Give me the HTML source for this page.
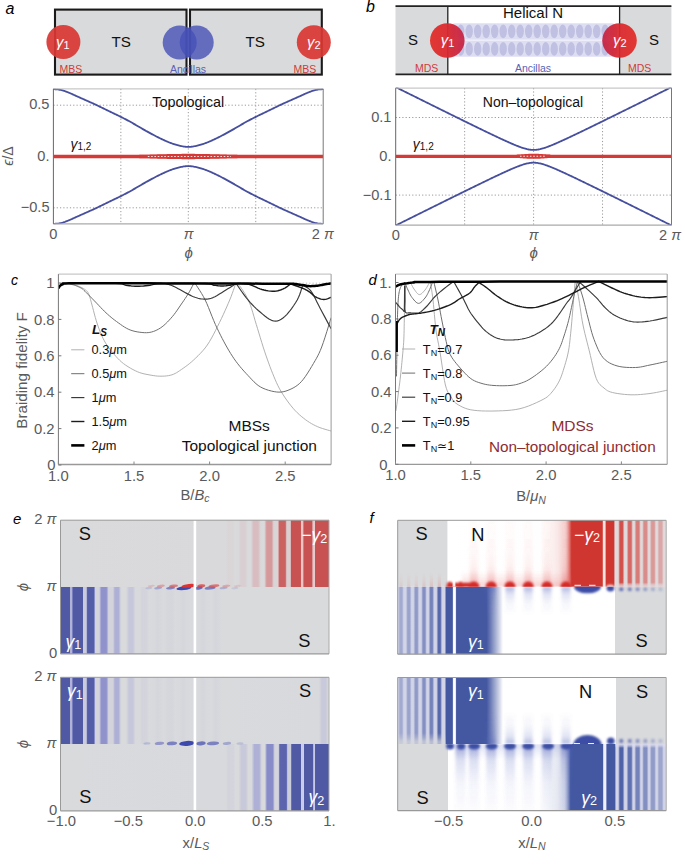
<!DOCTYPE html>
<html><head><meta charset="utf-8"><title>Braiding figure</title>
<style>html,body{margin:0;padding:0;background:#fff;width:685px;height:865px;overflow:hidden;}svg{display:block;}text{font-family:"Liberation Sans",sans-serif;}</style>
</head><body><svg width="685" height="865" viewBox="0 0 685 865" font-family="Liberation Sans, sans-serif"><defs><linearGradient id="cg1" x1="0" y1="0" x2="1" y2="0"><stop offset="0" stop-color="rgb(226,46,40)"/><stop offset="0.5" stop-color="rgb(218,40,46)"/><stop offset="1" stop-color="rgb(196,36,72)"/></linearGradient><linearGradient id="cg2" x1="0" y1="0" x2="1" y2="0"><stop offset="0" stop-color="rgb(196,36,72)"/><stop offset="0.5" stop-color="rgb(218,40,46)"/><stop offset="1" stop-color="rgb(226,46,40)"/></linearGradient><filter id="bl1" x="-50%" y="-50%" width="200%" height="200%"><feGaussianBlur stdDeviation="0.9"/></filter><filter id="bl2" x="-50%" y="-50%" width="200%" height="200%"><feGaussianBlur stdDeviation="1.8"/></filter><filter id="bl3" x="-50%" y="-50%" width="200%" height="200%"><feGaussianBlur stdDeviation="3"/></filter><linearGradient id="hg1" gradientUnits="userSpaceOnUse" x1="60.5" y1="0" x2="329.0" y2="0"><stop offset="0.0000" stop-color="#d9dadc"/><stop offset="0.6145" stop-color="#d9d9db"/><stop offset="0.6257" stop-color="#d9d5d7"/><stop offset="0.6406" stop-color="#d9d6d8"/><stop offset="0.6518" stop-color="#d9dadc"/><stop offset="0.6629" stop-color="#d9d8db"/><stop offset="0.6723" stop-color="#d9ced1"/><stop offset="0.6872" stop-color="#d9ced1"/><stop offset="0.6983" stop-color="#d9dadc"/><stop offset="0.7076" stop-color="#d9dadc"/><stop offset="0.7095" stop-color="#d9d8da"/><stop offset="0.7151" stop-color="#d9c8cb"/><stop offset="0.7188" stop-color="#d8bec1"/><stop offset="0.7225" stop-color="#d8bcbf"/><stop offset="0.7356" stop-color="#d8bdc0"/><stop offset="0.7393" stop-color="#d9c5c8"/><stop offset="0.7449" stop-color="#d9d6d8"/><stop offset="0.7467" stop-color="#d9d9db"/><stop offset="0.7579" stop-color="#d9dadc"/><stop offset="0.7598" stop-color="#d9d4d6"/><stop offset="0.7616" stop-color="#d9c8ca"/><stop offset="0.7654" stop-color="#d7aaad"/><stop offset="0.7672" stop-color="#d69fa2"/><stop offset="0.7691" stop-color="#d5999c"/><stop offset="0.7840" stop-color="#d5999c"/><stop offset="0.7858" stop-color="#d59a9d"/><stop offset="0.7877" stop-color="#d6a3a6"/><stop offset="0.7933" stop-color="#d9cdcf"/><stop offset="0.7952" stop-color="#d9d4d6"/><stop offset="0.8082" stop-color="#d9d4d6"/><stop offset="0.8101" stop-color="#d9c9cb"/><stop offset="0.8119" stop-color="#d6a3a6"/><stop offset="0.8138" stop-color="#d17b7e"/><stop offset="0.8156" stop-color="#cc6364"/><stop offset="0.8175" stop-color="#cc6162"/><stop offset="0.8361" stop-color="#cc6162"/><stop offset="0.8380" stop-color="#cf6f71"/><stop offset="0.8399" stop-color="#d59295"/><stop offset="0.8417" stop-color="#d8bbbe"/><stop offset="0.8436" stop-color="#d9ced0"/><stop offset="0.8547" stop-color="#d9ced1"/><stop offset="0.8566" stop-color="#d8babd"/><stop offset="0.8585" stop-color="#cb5f60"/><stop offset="0.8603" stop-color="#c85252"/><stop offset="0.8920" stop-color="#c85252"/><stop offset="0.8939" stop-color="#c95556"/><stop offset="0.8957" stop-color="#ddaeb0"/><stop offset="0.8976" stop-color="#ebc7c8"/><stop offset="0.8994" stop-color="#eec4c4"/><stop offset="0.9013" stop-color="#eec4c4"/><stop offset="0.9032" stop-color="#e6cccd"/><stop offset="0.9050" stop-color="#d37f81"/><stop offset="0.9069" stop-color="#c85252"/><stop offset="0.9367" stop-color="#c85252"/><stop offset="0.9385" stop-color="#d8999b"/><stop offset="0.9404" stop-color="#e9c9ca"/><stop offset="0.9423" stop-color="#eec4c4"/><stop offset="0.9441" stop-color="#eec4c4"/><stop offset="0.9460" stop-color="#e6cccd"/><stop offset="0.9479" stop-color="#d27a7c"/><stop offset="0.9497" stop-color="#c85252"/><stop offset="1.0000" stop-color="#c85252"/></linearGradient><linearGradient id="hg2" gradientUnits="userSpaceOnUse" x1="60.5" y1="0" x2="329.0" y2="0"><stop offset="0.0000" stop-color="#797ec0"/><stop offset="0.0019" stop-color="#505aa4"/><stop offset="0.0335" stop-color="#505aa4"/><stop offset="0.0354" stop-color="#abadd5"/><stop offset="0.0372" stop-color="#b0b2d6"/><stop offset="0.0428" stop-color="#b1b3d6"/><stop offset="0.0447" stop-color="#797ec0"/><stop offset="0.0466" stop-color="#505aa4"/><stop offset="0.0819" stop-color="#505aa4"/><stop offset="0.0838" stop-color="#797ec0"/><stop offset="0.0857" stop-color="#cbccdb"/><stop offset="0.0950" stop-color="#cacbdb"/><stop offset="0.0968" stop-color="#b4b6d7"/><stop offset="0.0987" stop-color="#7e83c3"/><stop offset="0.1006" stop-color="#5861aa"/><stop offset="0.1024" stop-color="#545da7"/><stop offset="0.1229" stop-color="#545da7"/><stop offset="0.1248" stop-color="#5d65ae"/><stop offset="0.1266" stop-color="#898dc8"/><stop offset="0.1285" stop-color="#bec0d9"/><stop offset="0.1304" stop-color="#d3d4dc"/><stop offset="0.1434" stop-color="#d3d4dc"/><stop offset="0.1453" stop-color="#cacbdb"/><stop offset="0.1490" stop-color="#a9abd4"/><stop offset="0.1508" stop-color="#9a9dcf"/><stop offset="0.1527" stop-color="#9194cc"/><stop offset="0.1583" stop-color="#8f92cb"/><stop offset="0.1695" stop-color="#8f92cb"/><stop offset="0.1713" stop-color="#9397cd"/><stop offset="0.1732" stop-color="#9fa2d1"/><stop offset="0.1769" stop-color="#c1c2d9"/><stop offset="0.1788" stop-color="#d0d1db"/><stop offset="0.1825" stop-color="#d2d3db"/><stop offset="0.1955" stop-color="#d2d3dc"/><stop offset="0.2011" stop-color="#b6b7d7"/><stop offset="0.2030" stop-color="#afb1d6"/><stop offset="0.2067" stop-color="#adafd5"/><stop offset="0.2160" stop-color="#aeb0d6"/><stop offset="0.2179" stop-color="#b4b6d7"/><stop offset="0.2235" stop-color="#d0d2db"/><stop offset="0.2253" stop-color="#d7d8dc"/><stop offset="0.2291" stop-color="#d9dadc"/><stop offset="0.2439" stop-color="#d9dadc"/><stop offset="0.2495" stop-color="#d0d1db"/><stop offset="0.2551" stop-color="#c6c8da"/><stop offset="0.2682" stop-color="#c6c7da"/><stop offset="0.2719" stop-color="#cacbdb"/><stop offset="0.2793" stop-color="#d8d9dc"/><stop offset="0.2961" stop-color="#d8d9dc"/><stop offset="0.3054" stop-color="#d2d3db"/><stop offset="0.3203" stop-color="#d3d4dc"/><stop offset="0.3296" stop-color="#d9dadc"/><stop offset="0.3482" stop-color="#d8d9dc"/><stop offset="0.3613" stop-color="#d5d6dc"/><stop offset="0.3855" stop-color="#d9dadc"/><stop offset="0.3985" stop-color="#d6d7dc"/><stop offset="0.4153" stop-color="#d5d6dc"/><stop offset="0.4283" stop-color="#d9dadc"/><stop offset="0.4432" stop-color="#d8d9dc"/><stop offset="0.4562" stop-color="#d5d6dc"/><stop offset="0.4693" stop-color="#d8d9dc"/><stop offset="0.5047" stop-color="#d9dadc"/><stop offset="0.5177" stop-color="#d8d9dc"/><stop offset="0.5307" stop-color="#d5d6dc"/><stop offset="0.5438" stop-color="#d8d9dc"/><stop offset="0.5624" stop-color="#d9dadc"/><stop offset="0.5773" stop-color="#d5d6dc"/><stop offset="0.5903" stop-color="#d7d8dc"/><stop offset="0.6034" stop-color="#d9dadc"/><stop offset="1.0000" stop-color="#d9dadc"/></linearGradient><linearGradient id="hg3" gradientUnits="userSpaceOnUse" x1="60.5" y1="0" x2="329.0" y2="0"><stop offset="0.0000" stop-color="#797ec0"/><stop offset="0.0019" stop-color="#505aa4"/><stop offset="0.0335" stop-color="#505aa4"/><stop offset="0.0354" stop-color="#abadd5"/><stop offset="0.0372" stop-color="#b0b2d6"/><stop offset="0.0428" stop-color="#b1b3d6"/><stop offset="0.0447" stop-color="#797ec0"/><stop offset="0.0466" stop-color="#505aa4"/><stop offset="0.0819" stop-color="#505aa4"/><stop offset="0.0838" stop-color="#797ec0"/><stop offset="0.0857" stop-color="#cbccdb"/><stop offset="0.0950" stop-color="#cacbdb"/><stop offset="0.0968" stop-color="#b4b6d7"/><stop offset="0.0987" stop-color="#7e83c3"/><stop offset="0.1006" stop-color="#5861aa"/><stop offset="0.1024" stop-color="#545da7"/><stop offset="0.1229" stop-color="#545da7"/><stop offset="0.1248" stop-color="#5d65ae"/><stop offset="0.1266" stop-color="#898dc8"/><stop offset="0.1285" stop-color="#bec0d9"/><stop offset="0.1304" stop-color="#d3d4dc"/><stop offset="0.1434" stop-color="#d3d4dc"/><stop offset="0.1453" stop-color="#cacbdb"/><stop offset="0.1490" stop-color="#a9abd4"/><stop offset="0.1508" stop-color="#9a9dcf"/><stop offset="0.1527" stop-color="#9194cc"/><stop offset="0.1583" stop-color="#8f92cb"/><stop offset="0.1695" stop-color="#8f92cb"/><stop offset="0.1713" stop-color="#9397cd"/><stop offset="0.1732" stop-color="#9fa2d1"/><stop offset="0.1769" stop-color="#c1c2d9"/><stop offset="0.1788" stop-color="#d0d1db"/><stop offset="0.1825" stop-color="#d2d3db"/><stop offset="0.1955" stop-color="#d2d3dc"/><stop offset="0.2011" stop-color="#b6b7d7"/><stop offset="0.2030" stop-color="#afb1d6"/><stop offset="0.2067" stop-color="#adafd5"/><stop offset="0.2160" stop-color="#aeb0d6"/><stop offset="0.2179" stop-color="#b4b6d7"/><stop offset="0.2235" stop-color="#d0d2db"/><stop offset="0.2253" stop-color="#d7d8dc"/><stop offset="0.2291" stop-color="#d9dadc"/><stop offset="0.2439" stop-color="#d9dadc"/><stop offset="0.2495" stop-color="#d0d1db"/><stop offset="0.2551" stop-color="#c6c8da"/><stop offset="0.2682" stop-color="#c6c7da"/><stop offset="0.2719" stop-color="#cacbdb"/><stop offset="0.2793" stop-color="#d8d9dc"/><stop offset="0.2961" stop-color="#d8d9dc"/><stop offset="0.3054" stop-color="#d2d3db"/><stop offset="0.3203" stop-color="#d3d4dc"/><stop offset="0.3296" stop-color="#d9dadc"/><stop offset="0.3482" stop-color="#d8d9dc"/><stop offset="0.3613" stop-color="#d5d6dc"/><stop offset="0.3855" stop-color="#d9dadc"/><stop offset="0.3985" stop-color="#d6d7dc"/><stop offset="0.4153" stop-color="#d5d6dc"/><stop offset="0.4283" stop-color="#d9dadc"/><stop offset="0.4432" stop-color="#d8d9dc"/><stop offset="0.4562" stop-color="#d5d6dc"/><stop offset="0.4693" stop-color="#d8d9dc"/><stop offset="0.5047" stop-color="#d9dadc"/><stop offset="0.5177" stop-color="#d8d9dc"/><stop offset="0.5307" stop-color="#d5d6dc"/><stop offset="0.5438" stop-color="#d8d9dc"/><stop offset="0.5624" stop-color="#d9dadc"/><stop offset="0.5773" stop-color="#d5d6dc"/><stop offset="0.5903" stop-color="#d7d8dc"/><stop offset="0.6034" stop-color="#d9dadc"/><stop offset="0.9628" stop-color="#d8d9dc"/><stop offset="0.9739" stop-color="#c8c9da"/><stop offset="0.9870" stop-color="#c8c9da"/><stop offset="0.9981" stop-color="#d8d9dc"/><stop offset="1.0000" stop-color="#d9dadc"/></linearGradient><linearGradient id="hg4" gradientUnits="userSpaceOnUse" x1="60.5" y1="0" x2="329.0" y2="0"><stop offset="0.0000" stop-color="#d9dadc"/><stop offset="0.6164" stop-color="#d8d9dc"/><stop offset="0.6257" stop-color="#d2d3db"/><stop offset="0.6425" stop-color="#d3d4dc"/><stop offset="0.6518" stop-color="#d9dadc"/><stop offset="0.6629" stop-color="#d9dadc"/><stop offset="0.6741" stop-color="#c8c9da"/><stop offset="0.6890" stop-color="#c8c9da"/><stop offset="0.7002" stop-color="#d9dadc"/><stop offset="0.7114" stop-color="#d8d9dc"/><stop offset="0.7132" stop-color="#d3d4dc"/><stop offset="0.7207" stop-color="#b3b5d7"/><stop offset="0.7225" stop-color="#aeb0d5"/><stop offset="0.7393" stop-color="#aeb0d5"/><stop offset="0.7412" stop-color="#b3b5d7"/><stop offset="0.7486" stop-color="#d3d4dc"/><stop offset="0.7505" stop-color="#d8d9dc"/><stop offset="0.7598" stop-color="#d9dadc"/><stop offset="0.7616" stop-color="#d3d4dc"/><stop offset="0.7635" stop-color="#c3c4da"/><stop offset="0.7672" stop-color="#9b9ed0"/><stop offset="0.7691" stop-color="#8c90ca"/><stop offset="0.7709" stop-color="#878bc7"/><stop offset="0.7896" stop-color="#888cc8"/><stop offset="0.7914" stop-color="#9195cc"/><stop offset="0.7933" stop-color="#a3a5d2"/><stop offset="0.7970" stop-color="#cacbdb"/><stop offset="0.7989" stop-color="#d3d4dc"/><stop offset="0.8101" stop-color="#d3d4dc"/><stop offset="0.8119" stop-color="#cbccdb"/><stop offset="0.8138" stop-color="#a1a3d2"/><stop offset="0.8156" stop-color="#747abd"/><stop offset="0.8175" stop-color="#5b64ad"/><stop offset="0.8399" stop-color="#5a63ac"/><stop offset="0.8417" stop-color="#666eb5"/><stop offset="0.8436" stop-color="#8e91ca"/><stop offset="0.8454" stop-color="#bcbdd9"/><stop offset="0.8473" stop-color="#cacbdb"/><stop offset="0.8585" stop-color="#cacbdb"/><stop offset="0.8603" stop-color="#6c72b8"/><stop offset="0.8622" stop-color="#505aa4"/><stop offset="0.8939" stop-color="#505aa4"/><stop offset="0.8957" stop-color="#8388c6"/><stop offset="0.8976" stop-color="#cdcee5"/><stop offset="0.8994" stop-color="#c8caea"/><stop offset="0.9032" stop-color="#c8caea"/><stop offset="0.9050" stop-color="#ced0e5"/><stop offset="0.9069" stop-color="#7f84c3"/><stop offset="0.9088" stop-color="#505aa4"/><stop offset="0.9404" stop-color="#505aa4"/><stop offset="0.9423" stop-color="#b5b7dc"/><stop offset="0.9441" stop-color="#c8caea"/><stop offset="0.9460" stop-color="#c8caea"/><stop offset="0.9479" stop-color="#c8c9e2"/><stop offset="0.9497" stop-color="#525ca6"/><stop offset="0.9534" stop-color="#505aa4"/><stop offset="1.0000" stop-color="#505aa4"/></linearGradient><filter id="bl07" x="-50%" y="-100%" width="200%" height="300%"><feGaussianBlur stdDeviation="0.6"/></filter><linearGradient id="hg5" gradientUnits="userSpaceOnUse" x1="397.7" y1="0" x2="666.2" y2="0"><stop offset="0.0000" stop-color="#d9dadc"/><stop offset="0.1844" stop-color="#d9dadc"/><stop offset="0.1862" stop-color="#ffffff"/><stop offset="0.5289" stop-color="#fffefe"/><stop offset="0.5661" stop-color="#fdf6f5"/><stop offset="0.5959" stop-color="#f9e7e6"/><stop offset="0.6220" stop-color="#f5d2d1"/><stop offset="0.6238" stop-color="#f4d0cf"/><stop offset="0.6276" stop-color="#f1c3c1"/><stop offset="0.6331" stop-color="#eaa5a2"/><stop offset="0.6387" stop-color="#e17e7a"/><stop offset="0.6443" stop-color="#d6514c"/><stop offset="0.6462" stop-color="#d2403b"/><stop offset="0.6480" stop-color="#d03630"/><stop offset="0.7616" stop-color="#d03630"/><stop offset="0.7635" stop-color="#df736f"/><stop offset="0.7654" stop-color="#f9dfdd"/><stop offset="0.7672" stop-color="#fae4e2"/><stop offset="0.7709" stop-color="#fae4e2"/><stop offset="0.7728" stop-color="#f9dfdd"/><stop offset="0.7747" stop-color="#df736f"/><stop offset="0.7765" stop-color="#d03630"/><stop offset="0.8063" stop-color="#d03630"/><stop offset="0.8082" stop-color="#e0dadc"/><stop offset="0.8194" stop-color="#e0dadc"/><stop offset="0.8212" stop-color="#e0d7d9"/><stop offset="0.8231" stop-color="#ddb9b9"/><stop offset="0.8250" stop-color="#d88b89"/><stop offset="0.8268" stop-color="#d4615d"/><stop offset="0.8287" stop-color="#d24f4a"/><stop offset="0.8361" stop-color="#d24f4a"/><stop offset="0.8380" stop-color="#d35651"/><stop offset="0.8399" stop-color="#d67876"/><stop offset="0.8417" stop-color="#dba7a7"/><stop offset="0.8436" stop-color="#dfcecf"/><stop offset="0.8454" stop-color="#e0dadc"/><stop offset="0.8510" stop-color="#e0dadc"/><stop offset="0.8529" stop-color="#e0d7d9"/><stop offset="0.8547" stop-color="#ddbfbf"/><stop offset="0.8566" stop-color="#da9998"/><stop offset="0.8585" stop-color="#d67673"/><stop offset="0.8603" stop-color="#d56764"/><stop offset="0.8678" stop-color="#d56764"/><stop offset="0.8696" stop-color="#d56d6a"/><stop offset="0.8715" stop-color="#d88a88"/><stop offset="0.8734" stop-color="#dcb0b0"/><stop offset="0.8752" stop-color="#dfd0d2"/><stop offset="0.8771" stop-color="#e0dadc"/><stop offset="0.8808" stop-color="#e0dadc"/><stop offset="0.8827" stop-color="#dfd2d3"/><stop offset="0.8845" stop-color="#ddb7b8"/><stop offset="0.8864" stop-color="#da9796"/><stop offset="0.8883" stop-color="#d7807d"/><stop offset="0.8901" stop-color="#d77b78"/><stop offset="0.8976" stop-color="#d77b78"/><stop offset="0.8994" stop-color="#d88785"/><stop offset="0.9013" stop-color="#dba4a3"/><stop offset="0.9032" stop-color="#dec3c4"/><stop offset="0.9050" stop-color="#e0d8da"/><stop offset="0.9088" stop-color="#e0dadc"/><stop offset="0.9106" stop-color="#e0d8da"/><stop offset="0.9125" stop-color="#dec7c8"/><stop offset="0.9162" stop-color="#d99694"/><stop offset="0.9181" stop-color="#d88b89"/><stop offset="0.9255" stop-color="#d88b89"/><stop offset="0.9274" stop-color="#d98f8e"/><stop offset="0.9292" stop-color="#dba3a2"/><stop offset="0.9311" stop-color="#ddbdbe"/><stop offset="0.9330" stop-color="#dfd3d5"/><stop offset="0.9348" stop-color="#e0dadc"/><stop offset="0.9385" stop-color="#e0dadc"/><stop offset="0.9404" stop-color="#dfcecf"/><stop offset="0.9441" stop-color="#dba4a4"/><stop offset="0.9460" stop-color="#da9998"/><stop offset="0.9534" stop-color="#da9897"/><stop offset="0.9553" stop-color="#da9a99"/><stop offset="0.9572" stop-color="#dba8a8"/><stop offset="0.9609" stop-color="#dfd1d3"/><stop offset="0.9628" stop-color="#e0dadc"/><stop offset="0.9665" stop-color="#e0dadc"/><stop offset="0.9683" stop-color="#dfd3d5"/><stop offset="0.9721" stop-color="#dcb2b2"/><stop offset="0.9739" stop-color="#dba7a6"/><stop offset="0.9832" stop-color="#dba6a5"/><stop offset="0.9851" stop-color="#dcafaf"/><stop offset="0.9888" stop-color="#dfd0d2"/><stop offset="0.9907" stop-color="#e0dadc"/><stop offset="1.0000" stop-color="#e0dadc"/></linearGradient><linearGradient id="hg6" gradientUnits="userSpaceOnUse" x1="397.7" y1="0" x2="666.2" y2="0"><stop offset="0.0000" stop-color="#d2d4e8"/><stop offset="0.0019" stop-color="#d1d3e7"/><stop offset="0.0037" stop-color="#c6cae2"/><stop offset="0.0074" stop-color="#a8afd3"/><stop offset="0.0093" stop-color="#a2aad0"/><stop offset="0.0149" stop-color="#a2aad0"/><stop offset="0.0168" stop-color="#a6aed2"/><stop offset="0.0186" stop-color="#b3b9d9"/><stop offset="0.0205" stop-color="#c3c7e1"/><stop offset="0.0223" stop-color="#d0d2e7"/><stop offset="0.0242" stop-color="#d2d4e8"/><stop offset="0.0298" stop-color="#d2d4e8"/><stop offset="0.0317" stop-color="#cbcde4"/><stop offset="0.0354" stop-color="#a7aed3"/><stop offset="0.0372" stop-color="#9ba4cd"/><stop offset="0.0428" stop-color="#99a2cc"/><stop offset="0.0447" stop-color="#9ba4cd"/><stop offset="0.0466" stop-color="#a7aed3"/><stop offset="0.0503" stop-color="#cbcde4"/><stop offset="0.0521" stop-color="#d2d4e8"/><stop offset="0.0577" stop-color="#d2d4e8"/><stop offset="0.0596" stop-color="#cccfe5"/><stop offset="0.0615" stop-color="#babfdc"/><stop offset="0.0633" stop-color="#a3abd1"/><stop offset="0.0652" stop-color="#939dc9"/><stop offset="0.0670" stop-color="#8f9ac7"/><stop offset="0.0726" stop-color="#909ac7"/><stop offset="0.0745" stop-color="#9ba4cd"/><stop offset="0.0782" stop-color="#c6c9e2"/><stop offset="0.0801" stop-color="#d2d4e8"/><stop offset="0.0857" stop-color="#d2d4e8"/><stop offset="0.0875" stop-color="#d0d2e7"/><stop offset="0.0894" stop-color="#bfc4df"/><stop offset="0.0931" stop-color="#8e99c7"/><stop offset="0.0950" stop-color="#8490c2"/><stop offset="0.1006" stop-color="#8490c2"/><stop offset="0.1024" stop-color="#8b96c5"/><stop offset="0.1043" stop-color="#a0a9d0"/><stop offset="0.1061" stop-color="#bbc0dc"/><stop offset="0.1080" stop-color="#ced1e6"/><stop offset="0.1099" stop-color="#d2d4e8"/><stop offset="0.1136" stop-color="#d2d4e8"/><stop offset="0.1155" stop-color="#cdd0e6"/><stop offset="0.1173" stop-color="#b6bbda"/><stop offset="0.1192" stop-color="#97a0cb"/><stop offset="0.1210" stop-color="#7c89be"/><stop offset="0.1229" stop-color="#7482ba"/><stop offset="0.1285" stop-color="#7482ba"/><stop offset="0.1304" stop-color="#818dc0"/><stop offset="0.1322" stop-color="#9da6ce"/><stop offset="0.1341" stop-color="#bcc0dd"/><stop offset="0.1359" stop-color="#d0d2e7"/><stop offset="0.1397" stop-color="#d2d4e8"/><stop offset="0.1434" stop-color="#d2d4e8"/><stop offset="0.1453" stop-color="#c7cae3"/><stop offset="0.1471" stop-color="#a4acd2"/><stop offset="0.1490" stop-color="#7b88bd"/><stop offset="0.1508" stop-color="#5b6cae"/><stop offset="0.1527" stop-color="#5567aa"/><stop offset="0.1583" stop-color="#5668ab"/><stop offset="0.1601" stop-color="#6c7bb6"/><stop offset="0.1639" stop-color="#bbc0dd"/><stop offset="0.1657" stop-color="#d1d3e8"/><stop offset="0.1769" stop-color="#d2d4e8"/><stop offset="0.1788" stop-color="#5c6dae"/><stop offset="0.1806" stop-color="#4458a2"/><stop offset="0.2030" stop-color="#4458a2"/><stop offset="0.2048" stop-color="#6c7cb6"/><stop offset="0.2067" stop-color="#eceef5"/><stop offset="0.2086" stop-color="#ffffff"/><stop offset="0.2142" stop-color="#ffffff"/><stop offset="0.2160" stop-color="#d7dbeb"/><stop offset="0.2179" stop-color="#5769ac"/><stop offset="0.2197" stop-color="#4458a2"/><stop offset="0.3296" stop-color="#4458a2"/><stop offset="0.3315" stop-color="#4559a3"/><stop offset="0.3464" stop-color="#6e7db7"/><stop offset="0.3762" stop-color="#cad0e5"/><stop offset="0.3911" stop-color="#fbfcfd"/><stop offset="0.3929" stop-color="#ffffff"/><stop offset="0.8082" stop-color="#ffffff"/><stop offset="0.8101" stop-color="#d9dadc"/><stop offset="1.0000" stop-color="#d9dadc"/></linearGradient><linearGradient id="hg7" gradientUnits="userSpaceOnUse" x1="397.7" y1="0" x2="666.2" y2="0"><stop offset="0.0000" stop-color="#d2d4e8"/><stop offset="0.0019" stop-color="#d1d3e7"/><stop offset="0.0037" stop-color="#c6cae2"/><stop offset="0.0074" stop-color="#a8afd3"/><stop offset="0.0093" stop-color="#a2aad0"/><stop offset="0.0149" stop-color="#a2aad0"/><stop offset="0.0168" stop-color="#a6aed2"/><stop offset="0.0186" stop-color="#b3b9d9"/><stop offset="0.0205" stop-color="#c3c7e1"/><stop offset="0.0223" stop-color="#d0d2e7"/><stop offset="0.0242" stop-color="#d2d4e8"/><stop offset="0.0298" stop-color="#d2d4e8"/><stop offset="0.0317" stop-color="#cbcde4"/><stop offset="0.0354" stop-color="#a7aed3"/><stop offset="0.0372" stop-color="#9ba4cd"/><stop offset="0.0428" stop-color="#99a2cc"/><stop offset="0.0447" stop-color="#9ba4cd"/><stop offset="0.0466" stop-color="#a7aed3"/><stop offset="0.0503" stop-color="#cbcde4"/><stop offset="0.0521" stop-color="#d2d4e8"/><stop offset="0.0577" stop-color="#d2d4e8"/><stop offset="0.0596" stop-color="#cccfe5"/><stop offset="0.0615" stop-color="#babfdc"/><stop offset="0.0633" stop-color="#a3abd1"/><stop offset="0.0652" stop-color="#939dc9"/><stop offset="0.0670" stop-color="#8f9ac7"/><stop offset="0.0726" stop-color="#909ac7"/><stop offset="0.0745" stop-color="#9ba4cd"/><stop offset="0.0782" stop-color="#c6c9e2"/><stop offset="0.0801" stop-color="#d2d4e8"/><stop offset="0.0857" stop-color="#d2d4e8"/><stop offset="0.0875" stop-color="#d0d2e7"/><stop offset="0.0894" stop-color="#bfc4df"/><stop offset="0.0931" stop-color="#8e99c7"/><stop offset="0.0950" stop-color="#8490c2"/><stop offset="0.1006" stop-color="#8490c2"/><stop offset="0.1024" stop-color="#8b96c5"/><stop offset="0.1043" stop-color="#a0a9d0"/><stop offset="0.1061" stop-color="#bbc0dc"/><stop offset="0.1080" stop-color="#ced1e6"/><stop offset="0.1099" stop-color="#d2d4e8"/><stop offset="0.1136" stop-color="#d2d4e8"/><stop offset="0.1155" stop-color="#cdd0e6"/><stop offset="0.1173" stop-color="#b6bbda"/><stop offset="0.1192" stop-color="#97a0cb"/><stop offset="0.1210" stop-color="#7c89be"/><stop offset="0.1229" stop-color="#7482ba"/><stop offset="0.1285" stop-color="#7482ba"/><stop offset="0.1304" stop-color="#818dc0"/><stop offset="0.1322" stop-color="#9da6ce"/><stop offset="0.1341" stop-color="#bcc0dd"/><stop offset="0.1359" stop-color="#d0d2e7"/><stop offset="0.1397" stop-color="#d2d4e8"/><stop offset="0.1434" stop-color="#d2d4e8"/><stop offset="0.1453" stop-color="#c7cae3"/><stop offset="0.1471" stop-color="#a4acd2"/><stop offset="0.1490" stop-color="#7b88bd"/><stop offset="0.1508" stop-color="#5b6cae"/><stop offset="0.1527" stop-color="#5567aa"/><stop offset="0.1583" stop-color="#5668ab"/><stop offset="0.1601" stop-color="#6c7bb6"/><stop offset="0.1639" stop-color="#bbc0dd"/><stop offset="0.1657" stop-color="#d1d3e8"/><stop offset="0.1769" stop-color="#d2d4e8"/><stop offset="0.1788" stop-color="#5c6dae"/><stop offset="0.1806" stop-color="#4458a2"/><stop offset="0.2030" stop-color="#4458a2"/><stop offset="0.2048" stop-color="#6c7cb6"/><stop offset="0.2067" stop-color="#eceef5"/><stop offset="0.2086" stop-color="#ffffff"/><stop offset="0.2142" stop-color="#ffffff"/><stop offset="0.2160" stop-color="#d7dbeb"/><stop offset="0.2179" stop-color="#5769ac"/><stop offset="0.2197" stop-color="#4458a2"/><stop offset="0.3296" stop-color="#4458a2"/><stop offset="0.3315" stop-color="#4559a3"/><stop offset="0.3464" stop-color="#6e7db7"/><stop offset="0.3762" stop-color="#cad0e5"/><stop offset="0.3911" stop-color="#fbfcfd"/><stop offset="0.3929" stop-color="#ffffff"/><stop offset="0.8119" stop-color="#ffffff"/><stop offset="0.8138" stop-color="#d9dadc"/><stop offset="1.0000" stop-color="#d9dadc"/></linearGradient><linearGradient id="hg8" gradientUnits="userSpaceOnUse" x1="397.7" y1="0" x2="666.2" y2="0"><stop offset="0.0000" stop-color="#d9dadc"/><stop offset="0.1862" stop-color="#d9dadc"/><stop offset="0.1881" stop-color="#ffffff"/><stop offset="0.5251" stop-color="#fefeff"/><stop offset="0.5642" stop-color="#f4f5fa"/><stop offset="0.5959" stop-color="#e4e7f1"/><stop offset="0.6201" stop-color="#d0d5e8"/><stop offset="0.6238" stop-color="#c4cae2"/><stop offset="0.6294" stop-color="#a9b2d4"/><stop offset="0.6350" stop-color="#8693c3"/><stop offset="0.6406" stop-color="#5c6eae"/><stop offset="0.6425" stop-color="#4d60a7"/><stop offset="0.6443" stop-color="#4458a2"/><stop offset="0.7635" stop-color="#4458a2"/><stop offset="0.7672" stop-color="#f0f0fc"/><stop offset="0.7747" stop-color="#f0f0fc"/><stop offset="0.7765" stop-color="#cbcfe9"/><stop offset="0.7784" stop-color="#5668ab"/><stop offset="0.7803" stop-color="#4458a2"/><stop offset="0.8101" stop-color="#4458a2"/><stop offset="0.8119" stop-color="#d2d4e8"/><stop offset="0.8194" stop-color="#d2d4e8"/><stop offset="0.8212" stop-color="#cbcee5"/><stop offset="0.8231" stop-color="#abb2d5"/><stop offset="0.8250" stop-color="#7f8cbf"/><stop offset="0.8268" stop-color="#5b6cad"/><stop offset="0.8287" stop-color="#4f62a8"/><stop offset="0.8361" stop-color="#4f62a8"/><stop offset="0.8380" stop-color="#5265a9"/><stop offset="0.8399" stop-color="#6f7db7"/><stop offset="0.8417" stop-color="#9aa3cc"/><stop offset="0.8436" stop-color="#c1c5e0"/><stop offset="0.8454" stop-color="#d2d4e8"/><stop offset="0.8510" stop-color="#d2d4e8"/><stop offset="0.8529" stop-color="#cccfe5"/><stop offset="0.8547" stop-color="#b0b6d7"/><stop offset="0.8566" stop-color="#8a95c4"/><stop offset="0.8585" stop-color="#6a79b5"/><stop offset="0.8603" stop-color="#6071b0"/><stop offset="0.8678" stop-color="#6071b0"/><stop offset="0.8696" stop-color="#6373b1"/><stop offset="0.8715" stop-color="#7c89bd"/><stop offset="0.8734" stop-color="#a1a9d0"/><stop offset="0.8752" stop-color="#c3c7e1"/><stop offset="0.8771" stop-color="#d2d4e8"/><stop offset="0.8808" stop-color="#d2d4e8"/><stop offset="0.8827" stop-color="#c6c9e2"/><stop offset="0.8845" stop-color="#aab1d4"/><stop offset="0.8864" stop-color="#8b96c5"/><stop offset="0.8883" stop-color="#7684bb"/><stop offset="0.8920" stop-color="#7482ba"/><stop offset="0.8976" stop-color="#7482ba"/><stop offset="0.8994" stop-color="#7c89be"/><stop offset="0.9013" stop-color="#97a0cb"/><stop offset="0.9032" stop-color="#b6bbda"/><stop offset="0.9050" stop-color="#cdd0e6"/><stop offset="0.9069" stop-color="#d2d4e8"/><stop offset="0.9088" stop-color="#d2d4e8"/><stop offset="0.9106" stop-color="#ced0e6"/><stop offset="0.9125" stop-color="#babfdc"/><stop offset="0.9143" stop-color="#a0a8cf"/><stop offset="0.9162" stop-color="#8995c4"/><stop offset="0.9181" stop-color="#828fc1"/><stop offset="0.9255" stop-color="#828fc1"/><stop offset="0.9274" stop-color="#8490c2"/><stop offset="0.9292" stop-color="#969fca"/><stop offset="0.9330" stop-color="#c8cbe3"/><stop offset="0.9348" stop-color="#d2d4e8"/><stop offset="0.9385" stop-color="#d0d3e7"/><stop offset="0.9404" stop-color="#c2c6e0"/><stop offset="0.9441" stop-color="#99a2cc"/><stop offset="0.9460" stop-color="#919bc8"/><stop offset="0.9553" stop-color="#919bc8"/><stop offset="0.9572" stop-color="#9da5ce"/><stop offset="0.9609" stop-color="#c6cae2"/><stop offset="0.9628" stop-color="#d2d4e8"/><stop offset="0.9665" stop-color="#d2d4e8"/><stop offset="0.9683" stop-color="#c8cbe3"/><stop offset="0.9721" stop-color="#a6add2"/><stop offset="0.9739" stop-color="#9ca5ce"/><stop offset="0.9832" stop-color="#9ca5cd"/><stop offset="0.9851" stop-color="#a3abd1"/><stop offset="0.9888" stop-color="#c5c9e2"/><stop offset="0.9907" stop-color="#d1d3e7"/><stop offset="1.0000" stop-color="#d2d4e8"/></linearGradient><linearGradient id="flUp" x1="0" y1="1" x2="0" y2="0"><stop offset="0" stop-color="#e04848" stop-opacity="0.45"/><stop offset="0.1" stop-color="#e04848" stop-opacity="0.22"/><stop offset="0.3" stop-color="#e04848" stop-opacity="0.07"/><stop offset="0.6" stop-color="#e04848" stop-opacity="0.03"/><stop offset="1" stop-color="#e04848" stop-opacity="0.015"/></linearGradient><linearGradient id="hzUp" x1="0" y1="1" x2="0" y2="0"><stop offset="0" stop-color="#e05050" stop-opacity="0.28"/><stop offset="0.5" stop-color="#e05050" stop-opacity="0.1"/><stop offset="1" stop-color="#e05050" stop-opacity="0"/></linearGradient><linearGradient id="hzDn" x1="0" y1="0" x2="0" y2="1"><stop offset="0" stop-color="#5565bb" stop-opacity="0.22"/><stop offset="0.5" stop-color="#5565bb" stop-opacity="0.08"/><stop offset="1" stop-color="#5565bb" stop-opacity="0"/></linearGradient><linearGradient id="hzUpB" x1="0" y1="1" x2="0" y2="0"><stop offset="0" stop-color="#5565bb" stop-opacity="0.22"/><stop offset="0.5" stop-color="#5565bb" stop-opacity="0.08"/><stop offset="1" stop-color="#5565bb" stop-opacity="0"/></linearGradient><linearGradient id="flDn" x1="0" y1="0" x2="0" y2="1"><stop offset="0" stop-color="#5565bb" stop-opacity="0.5"/><stop offset="0.25" stop-color="#5565bb" stop-opacity="0.2"/><stop offset="0.6" stop-color="#5565bb" stop-opacity="0.06"/><stop offset="1" stop-color="#5565bb" stop-opacity="0.02"/></linearGradient><linearGradient id="flUpB" x1="0" y1="1" x2="0" y2="0"><stop offset="0" stop-color="#5565bb" stop-opacity="0.45"/><stop offset="0.25" stop-color="#5565bb" stop-opacity="0.18"/><stop offset="0.6" stop-color="#5565bb" stop-opacity="0.06"/><stop offset="1" stop-color="#5565bb" stop-opacity="0.02"/></linearGradient><linearGradient id="fadeG" x1="0" y1="1" x2="0" y2="0"><stop offset="0" stop-color="#d9dadc" stop-opacity="0.9"/><stop offset="0.6" stop-color="#d9dadc" stop-opacity="0.3"/><stop offset="1" stop-color="#d9dadc" stop-opacity="0"/></linearGradient><linearGradient id="pkUp" x1="0" y1="1" x2="0" y2="0"><stop offset="0" stop-color="#e08080" stop-opacity="0.55"/><stop offset="0.4" stop-color="#e08080" stop-opacity="0.25"/><stop offset="1" stop-color="#e08080" stop-opacity="0"/></linearGradient><linearGradient id="fadeP" x1="0" y1="1" x2="0" y2="0"><stop offset="0" stop-color="#e2dadd" stop-opacity="0.95"/><stop offset="0.5" stop-color="#e2dadd" stop-opacity="0.6"/><stop offset="1" stop-color="#e2dadd" stop-opacity="0"/></linearGradient><linearGradient id="fadeL" x1="0" y1="0" x2="0" y2="1"><stop offset="0" stop-color="#dcdcec" stop-opacity="0.95"/><stop offset="0.5" stop-color="#dcdcec" stop-opacity="0.6"/><stop offset="1" stop-color="#dcdcec" stop-opacity="0"/></linearGradient></defs><text x="5.5" y="14" font-size="16" fill="#000" text-anchor="start" font-style="italic" >a</text><rect x="55" y="9.6" width="131.5" height="65" fill="#d9dadc" stroke="#1a1a1a" stroke-width="2.1"/><rect x="190" y="9.6" width="131.8" height="65" fill="#d9dadc" stroke="#1a1a1a" stroke-width="2.1"/><circle cx="179.7" cy="42.5" r="17" fill="rgb(70,80,182)" fill-opacity="0.8"/><circle cx="196.7" cy="42.5" r="17" fill="rgb(70,80,182)" fill-opacity="0.8"/><circle cx="63.4" cy="42" r="17" fill="#d83834" fill-opacity="0.93"/><circle cx="313.8" cy="42.3" r="17" fill="#d83834" fill-opacity="0.93"/><text x="121.2" y="47.4" font-size="15.2" fill="#111" text-anchor="middle" >TS</text><text x="255.2" y="47.4" font-size="15.2" fill="#111" text-anchor="middle" >TS</text><text x="62.9" y="46.5" font-size="15" fill="#fff" text-anchor="middle" font-style="italic" >γ<tspan font-size="11" dy="2" font-style="normal">1</tspan></text><text x="313.9" y="46.8" font-size="15" fill="#fff" text-anchor="middle" font-style="italic" >γ<tspan font-size="11" dy="2" font-style="normal">2</tspan></text><text x="71" y="73" font-size="10.5" fill="#d03a3a" text-anchor="middle" >MBS</text><text x="305" y="73" font-size="10.5" fill="#d03a3a" text-anchor="middle" >MBS</text><text x="188" y="73" font-size="10.5" fill="#5a62b4" text-anchor="middle" >Ancillas</text><text x="366" y="11.7" font-size="16" fill="#000" text-anchor="start" font-style="italic" >b</text><rect x="395.5" y="6.1" width="52.3" height="68.3" fill="#d9dadc"/><rect x="619.6" y="6.1" width="51.8" height="68.3" fill="#d9dadc"/><line x1="395.5" y1="6.1" x2="671.4" y2="6.1" stroke="#222" stroke-width="1.8"/><line x1="395.5" y1="74.4" x2="671.4" y2="74.4" stroke="#222" stroke-width="1.8"/><line x1="447.8" y1="6.1" x2="447.8" y2="74.4" stroke="#222" stroke-width="1.3"/><line x1="619.6" y1="6.1" x2="619.6" y2="74.4" stroke="#222" stroke-width="1.3"/><rect x="452" y="23.2" width="163" height="33.6" rx="3" fill="rgb(222,222,243)"/><rect x="452" y="39.6" width="163" height="1.1" fill="rgb(246,246,252)"/><ellipse cx="452.2" cy="31.3" rx="3.7" ry="6.9" fill="rgb(192,192,226)"/><ellipse cx="452.2" cy="48.9" rx="3.7" ry="6.9" fill="rgb(192,192,226)"/><ellipse cx="460.7" cy="31.3" rx="3.7" ry="6.9" fill="rgb(192,192,226)"/><ellipse cx="460.7" cy="48.9" rx="3.7" ry="6.9" fill="rgb(192,192,226)"/><ellipse cx="469.2" cy="31.3" rx="3.7" ry="6.9" fill="rgb(192,192,226)"/><ellipse cx="469.2" cy="48.9" rx="3.7" ry="6.9" fill="rgb(192,192,226)"/><ellipse cx="477.7" cy="31.3" rx="3.7" ry="6.9" fill="rgb(192,192,226)"/><ellipse cx="477.7" cy="48.9" rx="3.7" ry="6.9" fill="rgb(192,192,226)"/><ellipse cx="486.2" cy="31.3" rx="3.7" ry="6.9" fill="rgb(192,192,226)"/><ellipse cx="486.2" cy="48.9" rx="3.7" ry="6.9" fill="rgb(192,192,226)"/><ellipse cx="494.7" cy="31.3" rx="3.7" ry="6.9" fill="rgb(192,192,226)"/><ellipse cx="494.7" cy="48.9" rx="3.7" ry="6.9" fill="rgb(192,192,226)"/><ellipse cx="503.2" cy="31.3" rx="3.7" ry="6.9" fill="rgb(192,192,226)"/><ellipse cx="503.2" cy="48.9" rx="3.7" ry="6.9" fill="rgb(192,192,226)"/><ellipse cx="511.7" cy="31.3" rx="3.7" ry="6.9" fill="rgb(192,192,226)"/><ellipse cx="511.7" cy="48.9" rx="3.7" ry="6.9" fill="rgb(192,192,226)"/><ellipse cx="520.2" cy="31.3" rx="3.7" ry="6.9" fill="rgb(192,192,226)"/><ellipse cx="520.2" cy="48.9" rx="3.7" ry="6.9" fill="rgb(192,192,226)"/><ellipse cx="528.7" cy="31.3" rx="3.7" ry="6.9" fill="rgb(192,192,226)"/><ellipse cx="528.7" cy="48.9" rx="3.7" ry="6.9" fill="rgb(192,192,226)"/><ellipse cx="537.2" cy="31.3" rx="3.7" ry="6.9" fill="rgb(192,192,226)"/><ellipse cx="537.2" cy="48.9" rx="3.7" ry="6.9" fill="rgb(192,192,226)"/><ellipse cx="545.7" cy="31.3" rx="3.7" ry="6.9" fill="rgb(192,192,226)"/><ellipse cx="545.7" cy="48.9" rx="3.7" ry="6.9" fill="rgb(192,192,226)"/><ellipse cx="554.2" cy="31.3" rx="3.7" ry="6.9" fill="rgb(192,192,226)"/><ellipse cx="554.2" cy="48.9" rx="3.7" ry="6.9" fill="rgb(192,192,226)"/><ellipse cx="562.7" cy="31.3" rx="3.7" ry="6.9" fill="rgb(192,192,226)"/><ellipse cx="562.7" cy="48.9" rx="3.7" ry="6.9" fill="rgb(192,192,226)"/><ellipse cx="571.2" cy="31.3" rx="3.7" ry="6.9" fill="rgb(192,192,226)"/><ellipse cx="571.2" cy="48.9" rx="3.7" ry="6.9" fill="rgb(192,192,226)"/><ellipse cx="579.7" cy="31.3" rx="3.7" ry="6.9" fill="rgb(192,192,226)"/><ellipse cx="579.7" cy="48.9" rx="3.7" ry="6.9" fill="rgb(192,192,226)"/><ellipse cx="588.2" cy="31.3" rx="3.7" ry="6.9" fill="rgb(192,192,226)"/><ellipse cx="588.2" cy="48.9" rx="3.7" ry="6.9" fill="rgb(192,192,226)"/><ellipse cx="596.7" cy="31.3" rx="3.7" ry="6.9" fill="rgb(192,192,226)"/><ellipse cx="596.7" cy="48.9" rx="3.7" ry="6.9" fill="rgb(192,192,226)"/><ellipse cx="605.2" cy="31.3" rx="3.7" ry="6.9" fill="rgb(192,192,226)"/><ellipse cx="605.2" cy="48.9" rx="3.7" ry="6.9" fill="rgb(192,192,226)"/><ellipse cx="613.7" cy="31.3" rx="3.7" ry="6.9" fill="rgb(192,192,226)"/><ellipse cx="613.7" cy="48.9" rx="3.7" ry="6.9" fill="rgb(192,192,226)"/><circle cx="447.3" cy="40.5" r="17.3" fill="url(#cg1)" fill-opacity="0.94"/><circle cx="619.5" cy="40.5" r="17.3" fill="url(#cg2)" fill-opacity="0.94"/><text x="533" y="18.3" font-size="15" fill="#111" text-anchor="middle" >Helical N</text><text x="413" y="44.5" font-size="15" fill="#111" text-anchor="middle" >S</text><text x="654" y="44.5" font-size="15" fill="#111" text-anchor="middle" >S</text><text x="447.6" y="45" font-size="15" fill="#fff" text-anchor="middle" font-style="italic" >γ<tspan font-size="11" dy="2" font-style="normal">1</tspan></text><text x="619.9" y="45" font-size="15" fill="#fff" text-anchor="middle" font-style="italic" >γ<tspan font-size="11" dy="2" font-style="normal">2</tspan></text><text x="426.6" y="71.5" font-size="10.5" fill="#d03a3a" text-anchor="middle" >MDS</text><text x="639.7" y="71.5" font-size="10.5" fill="#d03a3a" text-anchor="middle" >MDS</text><text x="533" y="71.5" font-size="10.5" fill="#5a62b4" text-anchor="middle" >Ancillas</text><line x1="120.85" y1="88.9" x2="120.85" y2="223.8" stroke="#9a9a9a" stroke-width="1" stroke-dasharray="1.2 2.1"/><line x1="188.3" y1="88.9" x2="188.3" y2="223.8" stroke="#9a9a9a" stroke-width="1" stroke-dasharray="1.2 2.1"/><line x1="255.75000000000003" y1="88.9" x2="255.75000000000003" y2="223.8" stroke="#9a9a9a" stroke-width="1" stroke-dasharray="1.2 2.1"/><line x1="53.4" y1="105.2" x2="323.2" y2="105.2" stroke="#9a9a9a" stroke-width="1" stroke-dasharray="1.2 2.1"/><line x1="53.4" y1="207.8" x2="323.2" y2="207.8" stroke="#9a9a9a" stroke-width="1" stroke-dasharray="1.2 2.1"/><line x1="53.4" y1="156.5" x2="323.2" y2="156.5" stroke="#9a9a9a" stroke-width="1" stroke-dasharray="1.2 2.1"/><clipPath id="cpa"><rect x="53.4" y="88.4" width="269.8" height="135.9"/></clipPath><g clip-path="url(#cpa)"><path d="M53.40,89.20 L54.30,89.21 L55.20,89.24 L56.10,89.30 L57.00,89.38 L57.90,89.48 L58.80,89.60 L59.70,89.76 L60.59,89.94 L61.49,90.14 L62.39,90.37 L63.29,90.63 L64.19,90.92 L65.09,91.22 L65.99,91.55 L66.89,91.89 L67.79,92.25 L68.69,92.62 L69.59,93.00 L70.49,93.39 L71.39,93.79 L72.29,94.19 L73.19,94.60 L74.08,95.00 L74.98,95.41 L75.88,95.81 L76.78,96.21 L77.68,96.62 L78.58,97.02 L79.48,97.42 L80.38,97.82 L81.28,98.22 L82.18,98.62 L83.08,99.03 L83.98,99.43 L84.88,99.82 L85.78,100.22 L86.68,100.62 L87.57,101.02 L88.47,101.42 L89.37,101.82 L90.27,102.22 L91.17,102.63 L92.07,103.03 L92.97,103.44 L93.87,103.85 L94.77,104.27 L95.67,104.68 L96.57,105.11 L97.47,105.53 L98.37,105.96 L99.27,106.39 L100.17,106.83 L101.06,107.26 L101.96,107.70 L102.86,108.14 L103.76,108.58 L104.66,109.03 L105.56,109.47 L106.46,109.91 L107.36,110.35 L108.26,110.79 L109.16,111.22 L110.06,111.66 L110.96,112.09 L111.86,112.52 L112.76,112.95 L113.66,113.38 L114.55,113.82 L115.45,114.25 L116.35,114.68 L117.25,115.12 L118.15,115.55 L119.05,115.99 L119.95,116.43 L120.85,116.88 L121.75,117.33 L122.65,117.78 L123.55,118.24 L124.45,118.70 L125.35,119.16 L126.25,119.63 L127.15,120.11 L128.04,120.59 L128.94,121.08 L129.84,121.57 L130.74,122.07 L131.64,122.57 L132.54,123.08 L133.44,123.60 L134.34,124.11 L135.24,124.64 L136.14,125.16 L137.04,125.69 L137.94,126.21 L138.84,126.74 L139.74,127.27 L140.64,127.80 L141.53,128.32 L142.43,128.85 L143.33,129.37 L144.23,129.89 L145.13,130.40 L146.03,130.91 L146.93,131.41 L147.83,131.91 L148.73,132.41 L149.63,132.90 L150.53,133.39 L151.43,133.87 L152.33,134.35 L153.23,134.83 L154.13,135.30 L155.02,135.76 L155.92,136.23 L156.82,136.69 L157.72,137.14 L158.62,137.59 L159.52,138.04 L160.42,138.48 L161.32,138.91 L162.22,139.34 L163.12,139.76 L164.02,140.18 L164.92,140.58 L165.82,140.98 L166.72,141.37 L167.62,141.75 L168.51,142.13 L169.41,142.49 L170.31,142.84 L171.21,143.18 L172.11,143.51 L173.01,143.83 L173.91,144.14 L174.81,144.43 L175.71,144.71 L176.61,144.97 L177.51,145.22 L178.41,145.45 L179.31,145.67 L180.21,145.87 L181.11,146.06 L182.00,146.23 L182.90,146.38 L183.80,146.52 L184.70,146.64 L185.60,146.75 L186.50,146.83 L187.40,146.88 L188.30,146.90 L189.20,146.88 L190.10,146.83 L191.00,146.75 L191.90,146.64 L192.80,146.52 L193.70,146.38 L194.60,146.23 L195.49,146.06 L196.39,145.87 L197.29,145.67 L198.19,145.45 L199.09,145.22 L199.99,144.97 L200.89,144.71 L201.79,144.43 L202.69,144.14 L203.59,143.83 L204.49,143.51 L205.39,143.18 L206.29,142.84 L207.19,142.49 L208.09,142.13 L208.98,141.75 L209.88,141.37 L210.78,140.98 L211.68,140.58 L212.58,140.18 L213.48,139.76 L214.38,139.34 L215.28,138.91 L216.18,138.48 L217.08,138.04 L217.98,137.59 L218.88,137.14 L219.78,136.69 L220.68,136.23 L221.58,135.76 L222.47,135.30 L223.37,134.83 L224.27,134.35 L225.17,133.87 L226.07,133.39 L226.97,132.90 L227.87,132.41 L228.77,131.91 L229.67,131.41 L230.57,130.91 L231.47,130.40 L232.37,129.89 L233.27,129.37 L234.17,128.85 L235.07,128.32 L235.96,127.80 L236.86,127.27 L237.76,126.74 L238.66,126.21 L239.56,125.69 L240.46,125.16 L241.36,124.64 L242.26,124.11 L243.16,123.60 L244.06,123.08 L244.96,122.57 L245.86,122.07 L246.76,121.57 L247.66,121.08 L248.56,120.59 L249.45,120.11 L250.35,119.63 L251.25,119.16 L252.15,118.70 L253.05,118.24 L253.95,117.78 L254.85,117.33 L255.75,116.88 L256.65,116.43 L257.55,115.99 L258.45,115.55 L259.35,115.12 L260.25,114.68 L261.15,114.25 L262.05,113.82 L262.94,113.38 L263.84,112.95 L264.74,112.52 L265.64,112.09 L266.54,111.66 L267.44,111.22 L268.34,110.79 L269.24,110.35 L270.14,109.91 L271.04,109.47 L271.94,109.03 L272.84,108.58 L273.74,108.14 L274.64,107.70 L275.54,107.26 L276.43,106.83 L277.33,106.39 L278.23,105.96 L279.13,105.53 L280.03,105.11 L280.93,104.68 L281.83,104.27 L282.73,103.85 L283.63,103.44 L284.53,103.03 L285.43,102.63 L286.33,102.22 L287.23,101.82 L288.13,101.42 L289.03,101.02 L289.92,100.62 L290.82,100.22 L291.72,99.82 L292.62,99.43 L293.52,99.03 L294.42,98.62 L295.32,98.22 L296.22,97.82 L297.12,97.42 L298.02,97.02 L298.92,96.62 L299.82,96.21 L300.72,95.81 L301.62,95.41 L302.52,95.00 L303.41,94.60 L304.31,94.19 L305.21,93.79 L306.11,93.39 L307.01,93.00 L307.91,92.62 L308.81,92.25 L309.71,91.89 L310.61,91.55 L311.51,91.22 L312.41,90.92 L313.31,90.63 L314.21,90.37 L315.11,90.14 L316.01,89.94 L316.90,89.76 L317.80,89.60 L318.70,89.48 L319.60,89.38 L320.50,89.30 L321.40,89.24 L322.30,89.21 L323.20,89.20" fill="none" stroke="#464e9e" stroke-width="1.8" stroke-linejoin="round" stroke-linecap="round" /><path d="M53.40,223.80 L54.30,223.79 L55.20,223.76 L56.10,223.70 L57.00,223.62 L57.90,223.52 L58.80,223.40 L59.70,223.24 L60.59,223.06 L61.49,222.86 L62.39,222.63 L63.29,222.37 L64.19,222.08 L65.09,221.78 L65.99,221.45 L66.89,221.11 L67.79,220.75 L68.69,220.38 L69.59,220.00 L70.49,219.61 L71.39,219.21 L72.29,218.81 L73.19,218.40 L74.08,218.00 L74.98,217.59 L75.88,217.19 L76.78,216.79 L77.68,216.38 L78.58,215.98 L79.48,215.58 L80.38,215.18 L81.28,214.78 L82.18,214.38 L83.08,213.97 L83.98,213.57 L84.88,213.18 L85.78,212.78 L86.68,212.38 L87.57,211.98 L88.47,211.58 L89.37,211.18 L90.27,210.78 L91.17,210.37 L92.07,209.97 L92.97,209.56 L93.87,209.15 L94.77,208.73 L95.67,208.32 L96.57,207.89 L97.47,207.47 L98.37,207.04 L99.27,206.61 L100.17,206.17 L101.06,205.74 L101.96,205.30 L102.86,204.86 L103.76,204.42 L104.66,203.97 L105.56,203.53 L106.46,203.09 L107.36,202.65 L108.26,202.21 L109.16,201.78 L110.06,201.34 L110.96,200.91 L111.86,200.48 L112.76,200.05 L113.66,199.62 L114.55,199.18 L115.45,198.75 L116.35,198.32 L117.25,197.88 L118.15,197.45 L119.05,197.01 L119.95,196.57 L120.85,196.12 L121.75,195.67 L122.65,195.22 L123.55,194.76 L124.45,194.30 L125.35,193.84 L126.25,193.37 L127.15,192.89 L128.04,192.41 L128.94,191.92 L129.84,191.43 L130.74,190.93 L131.64,190.43 L132.54,189.92 L133.44,189.40 L134.34,188.89 L135.24,188.36 L136.14,187.84 L137.04,187.31 L137.94,186.79 L138.84,186.26 L139.74,185.73 L140.64,185.20 L141.53,184.68 L142.43,184.15 L143.33,183.63 L144.23,183.11 L145.13,182.60 L146.03,182.09 L146.93,181.59 L147.83,181.09 L148.73,180.59 L149.63,180.10 L150.53,179.61 L151.43,179.13 L152.33,178.65 L153.23,178.17 L154.13,177.70 L155.02,177.24 L155.92,176.77 L156.82,176.31 L157.72,175.86 L158.62,175.41 L159.52,174.96 L160.42,174.52 L161.32,174.09 L162.22,173.66 L163.12,173.24 L164.02,172.82 L164.92,172.42 L165.82,172.02 L166.72,171.63 L167.62,171.25 L168.51,170.87 L169.41,170.51 L170.31,170.16 L171.21,169.82 L172.11,169.49 L173.01,169.17 L173.91,168.86 L174.81,168.57 L175.71,168.29 L176.61,168.03 L177.51,167.78 L178.41,167.55 L179.31,167.33 L180.21,167.13 L181.11,166.94 L182.00,166.77 L182.90,166.62 L183.80,166.48 L184.70,166.36 L185.60,166.25 L186.50,166.17 L187.40,166.12 L188.30,166.10 L189.20,166.12 L190.10,166.17 L191.00,166.25 L191.90,166.36 L192.80,166.48 L193.70,166.62 L194.60,166.77 L195.49,166.94 L196.39,167.13 L197.29,167.33 L198.19,167.55 L199.09,167.78 L199.99,168.03 L200.89,168.29 L201.79,168.57 L202.69,168.86 L203.59,169.17 L204.49,169.49 L205.39,169.82 L206.29,170.16 L207.19,170.51 L208.09,170.87 L208.98,171.25 L209.88,171.63 L210.78,172.02 L211.68,172.42 L212.58,172.82 L213.48,173.24 L214.38,173.66 L215.28,174.09 L216.18,174.52 L217.08,174.96 L217.98,175.41 L218.88,175.86 L219.78,176.31 L220.68,176.77 L221.58,177.24 L222.47,177.70 L223.37,178.17 L224.27,178.65 L225.17,179.13 L226.07,179.61 L226.97,180.10 L227.87,180.59 L228.77,181.09 L229.67,181.59 L230.57,182.09 L231.47,182.60 L232.37,183.11 L233.27,183.63 L234.17,184.15 L235.07,184.68 L235.96,185.20 L236.86,185.73 L237.76,186.26 L238.66,186.79 L239.56,187.31 L240.46,187.84 L241.36,188.36 L242.26,188.89 L243.16,189.40 L244.06,189.92 L244.96,190.43 L245.86,190.93 L246.76,191.43 L247.66,191.92 L248.56,192.41 L249.45,192.89 L250.35,193.37 L251.25,193.84 L252.15,194.30 L253.05,194.76 L253.95,195.22 L254.85,195.67 L255.75,196.12 L256.65,196.57 L257.55,197.01 L258.45,197.45 L259.35,197.88 L260.25,198.32 L261.15,198.75 L262.05,199.18 L262.94,199.62 L263.84,200.05 L264.74,200.48 L265.64,200.91 L266.54,201.34 L267.44,201.78 L268.34,202.21 L269.24,202.65 L270.14,203.09 L271.04,203.53 L271.94,203.97 L272.84,204.42 L273.74,204.86 L274.64,205.30 L275.54,205.74 L276.43,206.17 L277.33,206.61 L278.23,207.04 L279.13,207.47 L280.03,207.89 L280.93,208.32 L281.83,208.73 L282.73,209.15 L283.63,209.56 L284.53,209.97 L285.43,210.37 L286.33,210.78 L287.23,211.18 L288.13,211.58 L289.03,211.98 L289.92,212.38 L290.82,212.78 L291.72,213.18 L292.62,213.57 L293.52,213.97 L294.42,214.38 L295.32,214.78 L296.22,215.18 L297.12,215.58 L298.02,215.98 L298.92,216.38 L299.82,216.79 L300.72,217.19 L301.62,217.59 L302.52,218.00 L303.41,218.40 L304.31,218.81 L305.21,219.21 L306.11,219.61 L307.01,220.00 L307.91,220.38 L308.81,220.75 L309.71,221.11 L310.61,221.45 L311.51,221.78 L312.41,222.08 L313.31,222.37 L314.21,222.63 L315.11,222.86 L316.01,223.06 L316.90,223.24 L317.80,223.40 L318.70,223.52 L319.60,223.62 L320.50,223.70 L321.40,223.76 L322.30,223.79 L323.20,223.80" fill="none" stroke="#464e9e" stroke-width="1.8" stroke-linejoin="round" stroke-linecap="round" /><line x1="53.4" y1="156.5" x2="323.2" y2="156.5" stroke="#d63a36" stroke-width="3.3"/><path d="M139.30,154.85 L140.52,154.84 L141.75,154.82 L142.97,154.80 L144.20,154.77 L145.42,154.74 L146.65,154.70 L147.88,154.67 L149.10,154.63 L150.32,154.60 L151.55,154.56 L152.77,154.52 L154.00,154.49 L155.22,154.45 L156.45,154.41 L157.67,154.37 L158.90,154.34 L160.12,154.30 L161.35,154.27 L162.57,154.23 L163.80,154.20 L165.02,154.17 L166.25,154.14 L167.47,154.11 L168.70,154.08 L169.92,154.05 L171.15,154.03 L172.38,154.00 L173.60,153.98 L174.82,153.96 L176.05,153.94 L177.27,153.92 L178.50,153.91 L179.72,153.90 L180.95,153.88 L182.17,153.87 L183.40,153.86 L184.62,153.86 L185.85,153.85 L187.07,153.85 L188.30,153.85 L189.52,153.85 L190.75,153.85 L191.97,153.86 L193.20,153.86 L194.42,153.87 L195.65,153.88 L196.88,153.90 L198.10,153.91 L199.32,153.92 L200.55,153.94 L201.77,153.96 L203.00,153.98 L204.22,154.00 L205.45,154.03 L206.67,154.05 L207.90,154.08 L209.12,154.11 L210.35,154.14 L211.57,154.17 L212.80,154.20 L214.02,154.23 L215.25,154.27 L216.47,154.30 L217.70,154.34 L218.92,154.37 L220.15,154.41 L221.38,154.45 L222.60,154.49 L223.82,154.52 L225.05,154.56 L226.27,154.60 L227.50,154.63 L228.72,154.67 L229.95,154.70 L231.17,154.74 L232.40,154.77 L233.62,154.80 L234.85,154.82 L236.07,154.84 L237.30,154.85 L237.30,158.15 L236.07,158.16 L234.85,158.18 L233.62,158.20 L232.40,158.23 L231.17,158.26 L229.95,158.30 L228.72,158.33 L227.50,158.37 L226.27,158.40 L225.05,158.44 L223.82,158.48 L222.60,158.51 L221.38,158.55 L220.15,158.59 L218.92,158.63 L217.70,158.66 L216.47,158.70 L215.25,158.73 L214.02,158.77 L212.80,158.80 L211.57,158.83 L210.35,158.86 L209.12,158.89 L207.90,158.92 L206.67,158.95 L205.45,158.97 L204.22,159.00 L203.00,159.02 L201.77,159.04 L200.55,159.06 L199.32,159.08 L198.10,159.09 L196.88,159.10 L195.65,159.12 L194.42,159.13 L193.20,159.14 L191.97,159.14 L190.75,159.15 L189.52,159.15 L188.30,159.15 L187.07,159.15 L185.85,159.15 L184.62,159.14 L183.40,159.14 L182.17,159.13 L180.95,159.12 L179.72,159.10 L178.50,159.09 L177.27,159.08 L176.05,159.06 L174.82,159.04 L173.60,159.02 L172.38,159.00 L171.15,158.97 L169.92,158.95 L168.70,158.92 L167.47,158.89 L166.25,158.86 L165.02,158.83 L163.80,158.80 L162.57,158.77 L161.35,158.73 L160.12,158.70 L158.90,158.66 L157.67,158.63 L156.45,158.59 L155.22,158.55 L154.00,158.51 L152.77,158.48 L151.55,158.44 L150.32,158.40 L149.10,158.37 L147.88,158.33 L146.65,158.30 L145.42,158.26 L144.20,158.23 L142.97,158.20 L141.75,158.18 L140.52,158.16 L139.30,158.15 Z" fill="#d63a36"/><line x1="147.8" y1="156.5" x2="231" y2="156.5" stroke="#fff" stroke-opacity="0.85" stroke-width="1.1" stroke-dasharray="1.6 1.7"/></g><line x1="53.4" y1="88.9" x2="323.2" y2="88.9" stroke="#bbb" stroke-width="1"/><line x1="323.2" y1="88.9" x2="323.2" y2="223.8" stroke="#777" stroke-width="1"/><line x1="53.4" y1="223.8" x2="323.2" y2="223.8" stroke="#aaa" stroke-width="1.3"/><line x1="53.4" y1="88.9" x2="53.4" y2="223.8" stroke="#666" stroke-width="1"/><text x="49.5" y="109.3" font-size="14.6" fill="#5a5a5a" text-anchor="end" >0.5</text><text x="49.5" y="161.3" font-size="14.6" fill="#5a5a5a" text-anchor="end" >0.</text><text x="49.5" y="212.3" font-size="14.6" fill="#5a5a5a" text-anchor="end" >−0.5</text><text x="53.4" y="239" font-size="14.6" fill="#5a5a5a" text-anchor="middle" >0</text><text x="188.6" y="239" font-size="14.6" fill="#5a5a5a" text-anchor="middle" ><tspan font-style="italic">π</tspan></text><text x="322.8" y="239" font-size="14.6" fill="#5a5a5a" text-anchor="middle" >2 <tspan font-style="italic">π</tspan></text><text x="188.6" y="258" font-size="15" fill="#5a5a5a" text-anchor="middle" font-style="italic" >ϕ</text><text transform="translate(13,156) rotate(-90)" font-size="14" fill="#5a5a5a" text-anchor="middle"><tspan font-style="italic">ϵ</tspan>/Δ</text><text x="70.5" y="148.5" font-size="14" fill="#111" text-anchor="start" font-style="italic" >γ<tspan font-size="10" dy="1.5" font-style="normal">1,2</tspan></text><text x="188.2" y="107.3" font-size="14.4" fill="#111" text-anchor="middle" >Topological</text><line x1="464.65" y1="88.1" x2="464.65" y2="225.1" stroke="#9a9a9a" stroke-width="1" stroke-dasharray="1.2 2.1"/><line x1="533.6" y1="88.1" x2="533.6" y2="225.1" stroke="#9a9a9a" stroke-width="1" stroke-dasharray="1.2 2.1"/><line x1="602.55" y1="88.1" x2="602.55" y2="225.1" stroke="#9a9a9a" stroke-width="1" stroke-dasharray="1.2 2.1"/><line x1="395.7" y1="117.5" x2="671.5" y2="117.5" stroke="#9a9a9a" stroke-width="1" stroke-dasharray="1.2 2.1"/><line x1="395.7" y1="195.10000000000002" x2="671.5" y2="195.10000000000002" stroke="#9a9a9a" stroke-width="1" stroke-dasharray="1.2 2.1"/><line x1="395.7" y1="156.3" x2="671.5" y2="156.3" stroke="#9a9a9a" stroke-width="1" stroke-dasharray="1.2 2.1"/><clipPath id="cpb"><rect x="395.7" y="87.6" width="275.8" height="138.0"/></clipPath><g clip-path="url(#cpb)"><path d="M395.70,87.13 L396.62,87.59 L397.54,88.05 L398.46,88.50 L399.38,88.96 L400.30,89.42 L401.22,89.88 L402.14,90.33 L403.05,90.79 L403.97,91.25 L404.89,91.70 L405.81,92.16 L406.73,92.62 L407.65,93.07 L408.57,93.53 L409.49,93.99 L410.41,94.44 L411.33,94.90 L412.25,95.36 L413.17,95.81 L414.09,96.27 L415.01,96.73 L415.93,97.18 L416.84,97.64 L417.76,98.10 L418.68,98.55 L419.60,99.01 L420.52,99.46 L421.44,99.92 L422.36,100.38 L423.28,100.83 L424.20,101.29 L425.12,101.75 L426.04,102.20 L426.96,102.66 L427.88,103.11 L428.80,103.57 L429.72,104.02 L430.63,104.48 L431.55,104.94 L432.47,105.39 L433.39,105.85 L434.31,106.30 L435.23,106.76 L436.15,107.21 L437.07,107.67 L437.99,108.12 L438.91,108.58 L439.83,109.03 L440.75,109.49 L441.67,109.94 L442.59,110.40 L443.51,110.85 L444.42,111.31 L445.34,111.76 L446.26,112.22 L447.18,112.67 L448.10,113.12 L449.02,113.58 L449.94,114.03 L450.86,114.49 L451.78,114.94 L452.70,115.39 L453.62,115.85 L454.54,116.30 L455.46,116.75 L456.38,117.21 L457.30,117.66 L458.21,118.11 L459.13,118.56 L460.05,119.02 L460.97,119.47 L461.89,119.92 L462.81,120.37 L463.73,120.82 L464.65,121.27 L465.57,121.73 L466.49,122.18 L467.41,122.63 L468.33,123.08 L469.25,123.53 L470.17,123.98 L471.09,124.43 L472.00,124.88 L472.92,125.33 L473.84,125.78 L474.76,126.23 L475.68,126.67 L476.60,127.12 L477.52,127.57 L478.44,128.02 L479.36,128.46 L480.28,128.91 L481.20,129.36 L482.12,129.80 L483.04,130.25 L483.96,130.69 L484.88,131.14 L485.79,131.58 L486.71,132.02 L487.63,132.47 L488.55,132.91 L489.47,133.35 L490.39,133.79 L491.31,134.23 L492.23,134.67 L493.15,135.11 L494.07,135.55 L494.99,135.98 L495.91,136.42 L496.83,136.85 L497.75,137.28 L498.67,137.72 L499.58,138.15 L500.50,138.57 L501.42,139.00 L502.34,139.43 L503.26,139.85 L504.18,140.27 L505.10,140.69 L506.02,141.11 L506.94,141.53 L507.86,141.94 L508.78,142.35 L509.70,142.75 L510.62,143.16 L511.54,143.56 L512.46,143.95 L513.37,144.34 L514.29,144.73 L515.21,145.11 L516.13,145.48 L517.05,145.85 L517.97,146.21 L518.89,146.56 L519.81,146.90 L520.73,147.23 L521.65,147.55 L522.57,147.85 L523.49,148.15 L524.41,148.42 L525.33,148.68 L526.25,148.92 L527.16,149.14 L528.08,149.33 L529.00,149.50 L529.92,149.64 L530.84,149.75 L531.76,149.83 L532.68,149.88 L533.60,149.90 L534.52,149.88 L535.44,149.83 L536.36,149.75 L537.28,149.64 L538.20,149.50 L539.12,149.33 L540.04,149.14 L540.95,148.92 L541.87,148.68 L542.79,148.42 L543.71,148.15 L544.63,147.85 L545.55,147.55 L546.47,147.23 L547.39,146.90 L548.31,146.56 L549.23,146.21 L550.15,145.85 L551.07,145.48 L551.99,145.11 L552.91,144.73 L553.83,144.34 L554.74,143.95 L555.66,143.56 L556.58,143.16 L557.50,142.75 L558.42,142.35 L559.34,141.94 L560.26,141.53 L561.18,141.11 L562.10,140.69 L563.02,140.27 L563.94,139.85 L564.86,139.43 L565.78,139.00 L566.70,138.57 L567.62,138.15 L568.53,137.72 L569.45,137.28 L570.37,136.85 L571.29,136.42 L572.21,135.98 L573.13,135.55 L574.05,135.11 L574.97,134.67 L575.89,134.23 L576.81,133.79 L577.73,133.35 L578.65,132.91 L579.57,132.47 L580.49,132.02 L581.41,131.58 L582.32,131.14 L583.24,130.69 L584.16,130.25 L585.08,129.80 L586.00,129.36 L586.92,128.91 L587.84,128.46 L588.76,128.02 L589.68,127.57 L590.60,127.12 L591.52,126.67 L592.44,126.23 L593.36,125.78 L594.28,125.33 L595.20,124.88 L596.11,124.43 L597.03,123.98 L597.95,123.53 L598.87,123.08 L599.79,122.63 L600.71,122.18 L601.63,121.73 L602.55,121.27 L603.47,120.82 L604.39,120.37 L605.31,119.92 L606.23,119.47 L607.15,119.02 L608.07,118.56 L608.99,118.11 L609.90,117.66 L610.82,117.21 L611.74,116.75 L612.66,116.30 L613.58,115.85 L614.50,115.39 L615.42,114.94 L616.34,114.49 L617.26,114.03 L618.18,113.58 L619.10,113.12 L620.02,112.67 L620.94,112.22 L621.86,111.76 L622.78,111.31 L623.69,110.85 L624.61,110.40 L625.53,109.94 L626.45,109.49 L627.37,109.03 L628.29,108.58 L629.21,108.12 L630.13,107.67 L631.05,107.21 L631.97,106.76 L632.89,106.30 L633.81,105.85 L634.73,105.39 L635.65,104.94 L636.57,104.48 L637.48,104.02 L638.40,103.57 L639.32,103.11 L640.24,102.66 L641.16,102.20 L642.08,101.75 L643.00,101.29 L643.92,100.83 L644.84,100.38 L645.76,99.92 L646.68,99.46 L647.60,99.01 L648.52,98.55 L649.44,98.10 L650.36,97.64 L651.27,97.18 L652.19,96.73 L653.11,96.27 L654.03,95.81 L654.95,95.36 L655.87,94.90 L656.79,94.44 L657.71,93.99 L658.63,93.53 L659.55,93.07 L660.47,92.62 L661.39,92.16 L662.31,91.70 L663.23,91.25 L664.15,90.79 L665.06,90.33 L665.98,89.88 L666.90,89.42 L667.82,88.96 L668.74,88.50 L669.66,88.05 L670.58,87.59 L671.50,87.13" fill="none" stroke="#464e9e" stroke-width="1.8" stroke-linejoin="round" stroke-linecap="round" /><path d="M395.70,225.47 L396.62,225.01 L397.54,224.55 L398.46,224.10 L399.38,223.64 L400.30,223.18 L401.22,222.72 L402.14,222.27 L403.05,221.81 L403.97,221.35 L404.89,220.90 L405.81,220.44 L406.73,219.98 L407.65,219.53 L408.57,219.07 L409.49,218.61 L410.41,218.16 L411.33,217.70 L412.25,217.24 L413.17,216.79 L414.09,216.33 L415.01,215.87 L415.93,215.42 L416.84,214.96 L417.76,214.50 L418.68,214.05 L419.60,213.59 L420.52,213.14 L421.44,212.68 L422.36,212.22 L423.28,211.77 L424.20,211.31 L425.12,210.85 L426.04,210.40 L426.96,209.94 L427.88,209.49 L428.80,209.03 L429.72,208.58 L430.63,208.12 L431.55,207.66 L432.47,207.21 L433.39,206.75 L434.31,206.30 L435.23,205.84 L436.15,205.39 L437.07,204.93 L437.99,204.48 L438.91,204.02 L439.83,203.57 L440.75,203.11 L441.67,202.66 L442.59,202.20 L443.51,201.75 L444.42,201.29 L445.34,200.84 L446.26,200.38 L447.18,199.93 L448.10,199.48 L449.02,199.02 L449.94,198.57 L450.86,198.11 L451.78,197.66 L452.70,197.21 L453.62,196.75 L454.54,196.30 L455.46,195.85 L456.38,195.39 L457.30,194.94 L458.21,194.49 L459.13,194.04 L460.05,193.58 L460.97,193.13 L461.89,192.68 L462.81,192.23 L463.73,191.78 L464.65,191.33 L465.57,190.87 L466.49,190.42 L467.41,189.97 L468.33,189.52 L469.25,189.07 L470.17,188.62 L471.09,188.17 L472.00,187.72 L472.92,187.27 L473.84,186.82 L474.76,186.37 L475.68,185.93 L476.60,185.48 L477.52,185.03 L478.44,184.58 L479.36,184.14 L480.28,183.69 L481.20,183.24 L482.12,182.80 L483.04,182.35 L483.96,181.91 L484.88,181.46 L485.79,181.02 L486.71,180.58 L487.63,180.13 L488.55,179.69 L489.47,179.25 L490.39,178.81 L491.31,178.37 L492.23,177.93 L493.15,177.49 L494.07,177.05 L494.99,176.62 L495.91,176.18 L496.83,175.75 L497.75,175.32 L498.67,174.88 L499.58,174.45 L500.50,174.03 L501.42,173.60 L502.34,173.17 L503.26,172.75 L504.18,172.33 L505.10,171.91 L506.02,171.49 L506.94,171.07 L507.86,170.66 L508.78,170.25 L509.70,169.85 L510.62,169.44 L511.54,169.04 L512.46,168.65 L513.37,168.26 L514.29,167.87 L515.21,167.49 L516.13,167.12 L517.05,166.75 L517.97,166.39 L518.89,166.04 L519.81,165.70 L520.73,165.37 L521.65,165.05 L522.57,164.75 L523.49,164.45 L524.41,164.18 L525.33,163.92 L526.25,163.68 L527.16,163.46 L528.08,163.27 L529.00,163.10 L529.92,162.96 L530.84,162.85 L531.76,162.77 L532.68,162.72 L533.60,162.70 L534.52,162.72 L535.44,162.77 L536.36,162.85 L537.28,162.96 L538.20,163.10 L539.12,163.27 L540.04,163.46 L540.95,163.68 L541.87,163.92 L542.79,164.18 L543.71,164.45 L544.63,164.75 L545.55,165.05 L546.47,165.37 L547.39,165.70 L548.31,166.04 L549.23,166.39 L550.15,166.75 L551.07,167.12 L551.99,167.49 L552.91,167.87 L553.83,168.26 L554.74,168.65 L555.66,169.04 L556.58,169.44 L557.50,169.85 L558.42,170.25 L559.34,170.66 L560.26,171.07 L561.18,171.49 L562.10,171.91 L563.02,172.33 L563.94,172.75 L564.86,173.17 L565.78,173.60 L566.70,174.03 L567.62,174.45 L568.53,174.88 L569.45,175.32 L570.37,175.75 L571.29,176.18 L572.21,176.62 L573.13,177.05 L574.05,177.49 L574.97,177.93 L575.89,178.37 L576.81,178.81 L577.73,179.25 L578.65,179.69 L579.57,180.13 L580.49,180.58 L581.41,181.02 L582.32,181.46 L583.24,181.91 L584.16,182.35 L585.08,182.80 L586.00,183.24 L586.92,183.69 L587.84,184.14 L588.76,184.58 L589.68,185.03 L590.60,185.48 L591.52,185.93 L592.44,186.37 L593.36,186.82 L594.28,187.27 L595.20,187.72 L596.11,188.17 L597.03,188.62 L597.95,189.07 L598.87,189.52 L599.79,189.97 L600.71,190.42 L601.63,190.87 L602.55,191.33 L603.47,191.78 L604.39,192.23 L605.31,192.68 L606.23,193.13 L607.15,193.58 L608.07,194.04 L608.99,194.49 L609.90,194.94 L610.82,195.39 L611.74,195.85 L612.66,196.30 L613.58,196.75 L614.50,197.21 L615.42,197.66 L616.34,198.11 L617.26,198.57 L618.18,199.02 L619.10,199.48 L620.02,199.93 L620.94,200.38 L621.86,200.84 L622.78,201.29 L623.69,201.75 L624.61,202.20 L625.53,202.66 L626.45,203.11 L627.37,203.57 L628.29,204.02 L629.21,204.48 L630.13,204.93 L631.05,205.39 L631.97,205.84 L632.89,206.30 L633.81,206.75 L634.73,207.21 L635.65,207.66 L636.57,208.12 L637.48,208.58 L638.40,209.03 L639.32,209.49 L640.24,209.94 L641.16,210.40 L642.08,210.85 L643.00,211.31 L643.92,211.77 L644.84,212.22 L645.76,212.68 L646.68,213.14 L647.60,213.59 L648.52,214.05 L649.44,214.50 L650.36,214.96 L651.27,215.42 L652.19,215.87 L653.11,216.33 L654.03,216.79 L654.95,217.24 L655.87,217.70 L656.79,218.16 L657.71,218.61 L658.63,219.07 L659.55,219.53 L660.47,219.98 L661.39,220.44 L662.31,220.90 L663.23,221.35 L664.15,221.81 L665.06,222.27 L665.98,222.72 L666.90,223.18 L667.82,223.64 L668.74,224.10 L669.66,224.55 L670.58,225.01 L671.50,225.47" fill="none" stroke="#464e9e" stroke-width="1.8" stroke-linejoin="round" stroke-linecap="round" /><line x1="395.7" y1="156.3" x2="671.5" y2="156.3" stroke="#d63a36" stroke-width="3.3"/><path d="M516.60,154.65 L517.02,154.64 L517.45,154.62 L517.88,154.60 L518.30,154.58 L518.73,154.55 L519.15,154.52 L519.58,154.49 L520.00,154.46 L520.43,154.42 L520.85,154.39 L521.27,154.36 L521.70,154.32 L522.12,154.29 L522.55,154.26 L522.98,154.22 L523.40,154.19 L523.83,154.16 L524.25,154.13 L524.68,154.10 L525.10,154.07 L525.52,154.04 L525.95,154.01 L526.38,153.98 L526.80,153.96 L527.23,153.93 L527.65,153.91 L528.08,153.89 L528.50,153.87 L528.93,153.85 L529.35,153.83 L529.77,153.82 L530.20,153.80 L530.62,153.79 L531.05,153.78 L531.48,153.77 L531.90,153.76 L532.33,153.76 L532.75,153.75 L533.18,153.75 L533.60,153.75 L534.02,153.75 L534.45,153.75 L534.88,153.76 L535.30,153.76 L535.73,153.77 L536.15,153.78 L536.58,153.79 L537.00,153.80 L537.43,153.82 L537.85,153.83 L538.27,153.85 L538.70,153.87 L539.12,153.89 L539.55,153.91 L539.98,153.93 L540.40,153.96 L540.83,153.98 L541.25,154.01 L541.68,154.04 L542.10,154.07 L542.52,154.10 L542.95,154.13 L543.38,154.16 L543.80,154.19 L544.23,154.22 L544.65,154.26 L545.08,154.29 L545.50,154.32 L545.93,154.36 L546.35,154.39 L546.77,154.42 L547.20,154.46 L547.62,154.49 L548.05,154.52 L548.48,154.55 L548.90,154.58 L549.33,154.60 L549.75,154.62 L550.18,154.64 L550.60,154.65 L550.60,157.95 L550.18,157.96 L549.75,157.98 L549.33,158.00 L548.90,158.02 L548.48,158.05 L548.05,158.08 L547.62,158.11 L547.20,158.14 L546.77,158.18 L546.35,158.21 L545.93,158.24 L545.50,158.28 L545.08,158.31 L544.65,158.34 L544.23,158.38 L543.80,158.41 L543.38,158.44 L542.95,158.47 L542.52,158.50 L542.10,158.53 L541.68,158.56 L541.25,158.59 L540.83,158.62 L540.40,158.64 L539.98,158.67 L539.55,158.69 L539.12,158.71 L538.70,158.73 L538.27,158.75 L537.85,158.77 L537.43,158.78 L537.00,158.80 L536.58,158.81 L536.15,158.82 L535.73,158.83 L535.30,158.84 L534.88,158.84 L534.45,158.85 L534.02,158.85 L533.60,158.85 L533.18,158.85 L532.75,158.85 L532.33,158.84 L531.90,158.84 L531.48,158.83 L531.05,158.82 L530.62,158.81 L530.20,158.80 L529.77,158.78 L529.35,158.77 L528.93,158.75 L528.50,158.73 L528.08,158.71 L527.65,158.69 L527.23,158.67 L526.80,158.64 L526.38,158.62 L525.95,158.59 L525.52,158.56 L525.10,158.53 L524.68,158.50 L524.25,158.47 L523.83,158.44 L523.40,158.41 L522.98,158.38 L522.55,158.34 L522.12,158.31 L521.70,158.28 L521.27,158.24 L520.85,158.21 L520.43,158.18 L520.00,158.14 L519.58,158.11 L519.15,158.08 L518.73,158.05 L518.30,158.02 L517.88,158.00 L517.45,157.98 L517.02,157.96 L516.60,157.95 Z" fill="#d63a36"/><line x1="520" y1="156.3" x2="545.5" y2="156.3" stroke="#fff" stroke-opacity="0.85" stroke-width="1.1" stroke-dasharray="1.6 1.7"/></g><line x1="395.7" y1="88.1" x2="671.5" y2="88.1" stroke="#bbb" stroke-width="1"/><line x1="671.5" y1="88.1" x2="671.5" y2="225.1" stroke="#777" stroke-width="1"/><line x1="395.7" y1="225.1" x2="671.5" y2="225.1" stroke="#aaa" stroke-width="1.3"/><line x1="395.7" y1="88.1" x2="395.7" y2="225.1" stroke="#666" stroke-width="1"/><text x="391.5" y="122" font-size="14.6" fill="#5a5a5a" text-anchor="end" >0.1</text><text x="391.5" y="161" font-size="14.6" fill="#5a5a5a" text-anchor="end" >0.</text><text x="391.5" y="200" font-size="14.6" fill="#5a5a5a" text-anchor="end" >−0.1</text><text x="395.7" y="240" font-size="14.6" fill="#5a5a5a" text-anchor="middle" >0</text><text x="533.6" y="240" font-size="14.6" fill="#5a5a5a" text-anchor="middle" ><tspan font-style="italic">π</tspan></text><text x="670" y="240" font-size="14.6" fill="#5a5a5a" text-anchor="middle" >2 <tspan font-style="italic">π</tspan></text><text x="533.6" y="258" font-size="15" fill="#5a5a5a" text-anchor="middle" font-style="italic" >ϕ</text><text x="412.8" y="148.5" font-size="14" fill="#111" text-anchor="start" font-style="italic" >γ<tspan font-size="10" dy="1.5" font-style="normal">1,2</tspan></text><text x="533" y="107" font-size="14" fill="#111" text-anchor="middle" >Non‒topological</text><clipPath id="cpc"><rect x="58.4" y="274.1" width="272.70000000000005" height="190.39999999999998"/></clipPath><line x1="58.4" y1="283.2" x2="331.1" y2="283.2" stroke="#bbb" stroke-width="1" stroke-dasharray="1.2 2.1"/><g clip-path="url(#cpc)"><path d="M58.50,286.50 L58.88,286.27 L59.39,285.94 L60.00,285.56 L60.67,285.16 L61.35,284.79 L62.00,284.50 L62.61,284.27 L63.22,284.07 L63.84,283.90 L64.50,283.76 L65.21,283.66 L66.00,283.60 L66.90,283.58 L67.91,283.60 L68.98,283.66 L70.04,283.74 L71.07,283.86 L72.00,284.00 L72.82,284.17 L73.58,284.37 L74.29,284.61 L74.98,284.86 L75.67,285.13 L76.40,285.40 L77.17,285.69 L77.96,285.99 L78.75,286.31 L79.53,286.64 L80.29,286.97 L81.00,287.30 L81.67,287.62 L82.30,287.94 L82.91,288.26 L83.49,288.59 L84.05,288.94 L84.60,289.30 L85.13,289.67 L85.65,290.03 L86.15,290.41 L86.63,290.82 L87.08,291.28 L87.50,291.80 L87.88,292.35 L88.21,292.90 L88.53,293.49 L88.83,294.18 L89.15,295.00 L89.50,296.00 L89.86,297.11 L90.19,298.27 L90.54,299.57 L90.94,301.08 L91.42,302.87 L92.00,305.00 L92.70,307.61 L93.50,310.67 L94.37,314.01 L95.30,317.46 L96.29,320.84 L97.30,324.00 L98.35,326.98 L99.44,329.93 L100.59,332.83 L101.78,335.62 L103.02,338.29 L104.30,340.80 L105.63,343.12 L107.01,345.27 L108.43,347.29 L109.90,349.22 L111.43,351.11 L113.00,353.00 L114.60,354.89 L116.23,356.74 L117.91,358.55 L119.67,360.30 L121.52,361.99 L123.50,363.60 L125.66,365.16 L128.00,366.70 L130.43,368.16 L132.89,369.53 L135.31,370.75 L137.60,371.80 L139.78,372.65 L141.91,373.31 L143.99,373.84 L146.03,374.27 L148.03,374.64 L150.00,375.00 L151.91,375.35 L153.77,375.64 L155.59,375.89 L157.39,376.07 L159.18,376.17 L161.00,376.20 L162.85,376.16 L164.73,376.07 L166.60,375.91 L168.45,375.65 L170.26,375.29 L172.00,374.80 L173.63,374.19 L175.15,373.48 L176.62,372.66 L178.12,371.72 L179.69,370.67 L181.40,369.50 L183.25,368.22 L185.20,366.85 L187.23,365.36 L189.32,363.73 L191.45,361.95 L193.60,360.00 L195.81,357.91 L198.11,355.69 L200.45,353.31 L202.79,350.76 L205.09,348.00 L207.30,345.00 L209.44,341.68 L211.55,338.06 L213.62,334.22 L215.64,330.28 L217.60,326.34 L219.50,322.50 L221.37,318.67 L223.21,314.76 L224.99,310.84 L226.69,307.02 L228.27,303.37 L229.70,300.00 L231.00,296.77 L232.20,293.59 L233.29,290.59 L234.23,287.91 L235.01,285.67 L235.60,284.00" fill="none" stroke="#a8a8a8" stroke-width="0.9" stroke-linejoin="round" stroke-linecap="round" /><path d="M236.40,284.00 L236.79,284.19 L237.29,284.33 L237.91,284.56 L238.64,285.00 L239.50,285.77 L240.50,287.00 L241.70,288.72 L243.12,290.83 L244.66,293.28 L246.25,296.00 L247.79,298.93 L249.20,302.00 L250.46,305.27 L251.64,308.79 L252.78,312.53 L253.91,316.42 L255.07,320.43 L256.30,324.50 L257.60,328.74 L258.95,333.21 L260.33,337.80 L261.73,342.39 L263.12,346.86 L264.50,351.10 L265.87,355.15 L267.24,359.09 L268.61,362.93 L269.97,366.63 L271.34,370.19 L272.70,373.60 L274.01,376.80 L275.25,379.78 L276.49,382.63 L277.79,385.40 L279.21,388.16 L280.80,391.00 L282.61,393.96 L284.59,397.00 L286.69,400.03 L288.84,402.98 L291.00,405.77 L293.10,408.30 L295.15,410.58 L297.20,412.67 L299.26,414.59 L301.31,416.37 L303.36,418.03 L305.40,419.60 L307.43,421.06 L309.43,422.38 L311.43,423.59 L313.45,424.70 L315.50,425.73 L317.60,426.70 L319.92,427.63 L322.47,428.50 L325.06,429.29 L327.48,429.99 L329.53,430.56 L331.00,431.00" fill="none" stroke="#a8a8a8" stroke-width="0.9" stroke-linejoin="round" stroke-linecap="round" /></g><g clip-path="url(#cpc)"><path d="M58.50,286.50 L58.88,286.27 L59.39,285.94 L60.00,285.56 L60.67,285.17 L61.35,284.80 L62.00,284.50 L62.62,284.25 L63.25,284.02 L63.89,283.82 L64.55,283.66 L65.25,283.55 L66.00,283.50 L66.82,283.54 L67.71,283.65 L68.64,283.82 L69.57,284.01 L70.47,284.22 L71.30,284.40 L72.03,284.55 L72.68,284.69 L73.30,284.83 L73.93,285.00 L74.61,285.22 L75.40,285.50 L76.33,285.87 L77.38,286.30 L78.49,286.78 L79.59,287.29 L80.61,287.80 L81.50,288.30 L82.15,288.70 L82.60,289.00 L82.97,289.31 L83.41,289.72 L84.04,290.35 L85.00,291.30 L86.34,292.64 L87.98,294.29 L89.81,296.16 L91.74,298.14 L93.67,300.12 L95.50,302.00 L97.25,303.82 L99.00,305.67 L100.75,307.53 L102.50,309.35 L104.25,311.12 L106.00,312.80 L107.73,314.38 L109.43,315.89 L111.14,317.33 L112.87,318.74 L114.65,320.12 L116.50,321.50 L118.45,322.92 L120.47,324.37 L122.54,325.81 L124.63,327.16 L126.73,328.38 L128.80,329.40 L130.87,330.22 L132.97,330.89 L135.06,331.42 L137.13,331.83 L139.15,332.15 L141.10,332.40 L142.95,332.59 L144.73,332.70 L146.46,332.71 L148.17,332.61 L149.87,332.38 L151.60,332.00 L153.35,331.47 L155.10,330.82 L156.85,330.03 L158.60,329.10 L160.35,328.03 L162.10,326.80 L163.87,325.38 L165.66,323.76 L167.46,321.99 L169.23,320.13 L170.95,318.22 L172.60,316.30 L174.19,314.33 L175.73,312.27 L177.22,310.15 L178.66,308.03 L180.06,305.97 L181.40,304.00 L182.69,302.13 L183.94,300.33 L185.13,298.57 L186.27,296.86 L187.36,295.17 L188.40,293.50 L189.42,291.75 L190.43,289.91 L191.39,288.09 L192.25,286.43 L192.97,285.02 L193.50,284.00" fill="none" stroke="#6e6e6e" stroke-width="1.0" stroke-linejoin="round" stroke-linecap="round" /><path d="M195.50,284.00 L196.55,285.64 L198.00,287.83 L199.71,290.47 L201.57,293.44 L203.44,296.66 L205.20,300.00 L206.87,303.64 L208.56,307.69 L210.26,311.97 L211.97,316.31 L213.69,320.55 L215.40,324.50 L217.11,328.20 L218.83,331.79 L220.55,335.26 L222.27,338.63 L223.99,341.87 L225.70,345.00 L227.38,347.98 L229.03,350.82 L230.68,353.54 L232.36,356.17 L234.09,358.75 L235.90,361.30 L237.82,363.83 L239.81,366.33 L241.87,368.76 L243.95,371.13 L246.04,373.41 L248.10,375.60 L250.10,377.73 L252.04,379.82 L253.99,381.82 L256.00,383.70 L258.12,385.41 L260.40,386.90 L262.93,388.19 L265.69,389.33 L268.55,390.29 L271.41,391.06 L274.17,391.64 L276.70,392.00 L278.98,392.14 L281.10,392.06 L283.10,391.78 L285.05,391.32 L287.00,390.69 L289.00,389.90 L291.05,389.00 L293.10,387.99 L295.16,386.81 L297.21,385.41 L299.26,383.72 L301.30,381.70 L303.39,379.21 L305.52,376.28 L307.66,373.06 L309.73,369.73 L311.70,366.46 L313.50,363.40 L315.09,360.70 L316.49,358.26 L317.78,355.87 L319.03,353.33 L320.32,350.44 L321.70,347.00 L323.29,342.56 L325.06,337.19 L326.86,331.48 L328.55,325.99 L329.98,321.30 L331.00,318.00" fill="none" stroke="#6e6e6e" stroke-width="1.0" stroke-linejoin="round" stroke-linecap="round" /></g><g clip-path="url(#cpc)"><path d="M58.50,286.50 L58.88,286.27 L59.39,285.95 L60.00,285.57 L60.67,285.17 L61.35,284.80 L62.00,284.50 L62.06,284.25 L61.44,284.03 L60.84,283.83 L60.94,283.66 L62.43,283.52 L66.00,283.40 L72.27,283.32 L80.81,283.29 L90.75,283.27 L101.19,283.28 L111.23,283.29 L120.00,283.30 L127.85,283.30 L135.57,283.29 L142.91,283.29 L149.59,283.31 L155.38,283.34 L160.00,283.40 L163.13,283.47 L164.91,283.54 L165.78,283.63 L166.20,283.76 L166.63,283.94 L167.50,284.20 L168.72,284.52 L169.91,284.89 L171.09,285.31 L172.31,285.79 L173.61,286.35 L175.00,287.00 L176.52,287.77 L178.15,288.66 L179.84,289.62 L181.57,290.62 L183.30,291.59 L185.00,292.50 L186.68,293.38 L188.37,294.26 L190.06,295.13 L191.74,295.95 L193.39,296.68 L195.00,297.30 L196.56,297.81 L198.07,298.24 L199.56,298.59 L201.04,298.86 L202.51,299.03 L204.00,299.10 L205.45,299.11 L206.86,299.07 L208.26,298.94 L209.71,298.67 L211.27,298.24 L213.00,297.60 L214.96,296.67 L217.13,295.46 L219.41,294.08 L221.69,292.64 L223.89,291.24 L225.90,290.00 L227.81,288.84 L229.73,287.66 L231.56,286.52 L233.20,285.50 L234.58,284.63 L235.60,284.00" fill="none" stroke="#3a3a3a" stroke-width="1.15" stroke-linejoin="round" stroke-linecap="round" /><path d="M236.40,284.00 L237.67,285.78 L239.41,288.29 L241.48,291.23 L243.72,294.35 L245.98,297.36 L248.10,300.00 L250.10,302.31 L252.12,304.51 L254.15,306.61 L256.20,308.60 L258.29,310.50 L260.40,312.30 L262.58,314.11 L264.84,315.96 L267.12,317.71 L269.39,319.22 L271.59,320.36 L273.70,321.00 L275.68,321.14 L277.55,320.89 L279.36,320.27 L281.16,319.30 L282.99,318.00 L284.90,316.40 L286.97,314.33 L289.17,311.74 L291.41,308.82 L293.57,305.76 L295.54,302.76 L297.20,300.00 L298.56,297.31 L299.71,294.49 L300.67,291.73 L301.46,289.19 L302.09,287.06 L302.60,285.50" fill="none" stroke="#3a3a3a" stroke-width="1.15" stroke-linejoin="round" stroke-linecap="round" /><path d="M303.00,285.50 L303.85,285.97 L305.00,286.50 L306.38,287.19 L307.89,288.11 L309.42,289.35 L310.90,291.00 L312.33,293.13 L313.77,295.68 L315.26,298.56 L316.78,301.64 L318.36,304.83 L320.00,308.00 L321.85,311.46 L323.93,315.36 L326.07,319.36 L328.08,323.13 L329.78,326.32 L331.00,328.60" fill="none" stroke="#3a3a3a" stroke-width="1.15" stroke-linejoin="round" stroke-linecap="round" /></g><g clip-path="url(#cpc)"><path d="M58.50,286.50 L58.88,286.27 L59.39,285.95 L60.00,285.57 L60.67,285.17 L61.35,284.80 L62.00,284.50 L62.11,284.25 L61.59,284.03 L61.09,283.82 L61.24,283.65 L62.67,283.51 L66.00,283.40 L72.13,283.32 L80.74,283.25 L90.62,283.22 L100.59,283.23 L109.45,283.28 L116.00,283.40 L119.97,283.60 L122.26,283.89 L123.44,284.23 L124.07,284.59 L124.74,284.92 L126.00,285.20 L127.75,285.45 L129.52,285.70 L131.31,285.93 L133.15,286.12 L135.04,286.25 L137.00,286.30 L139.07,286.25 L141.26,286.12 L143.50,285.93 L145.74,285.69 L147.93,285.44 L150.00,285.20 L151.57,284.93 L152.59,284.61 L153.56,284.28 L154.96,283.96 L157.28,283.69 L161.00,283.50 L166.83,283.38 L174.52,283.31 L183.12,283.29 L191.70,283.31 L199.31,283.38 L205.00,283.50 L208.54,283.70 L210.63,283.97 L211.75,284.30 L212.37,284.64 L212.96,284.95 L214.00,285.20 L215.39,285.40 L216.74,285.59 L218.06,285.76 L219.37,285.89 L220.68,285.97 L222.00,286.00 L223.34,285.97 L224.70,285.88 L226.06,285.75 L227.41,285.59 L228.72,285.40 L230.00,285.20 L231.21,284.96 L232.37,284.65 L233.50,284.33 L234.63,284.01 L235.79,283.76 L237.00,283.60 L238.30,283.54 L239.67,283.56 L241.06,283.64 L242.44,283.75 L243.77,283.88 L245.00,284.00 L246.06,284.09 L246.96,284.16 L247.81,284.24 L248.70,284.39 L249.73,284.62 L251.00,285.00 L252.53,285.58 L254.24,286.34 L256.10,287.20 L258.04,288.07 L260.03,288.87 L262.00,289.50 L264.02,290.01 L266.13,290.47 L268.29,290.86 L270.42,291.14 L272.48,291.30 L274.40,291.30 L276.20,291.12 L277.92,290.77 L279.57,290.29 L281.13,289.73 L282.61,289.12 L284.00,288.50 L285.34,287.80 L286.64,286.96 L287.85,286.07 L288.93,285.23 L289.83,284.51 L290.50,284.00" fill="none" stroke="#1c1c1c" stroke-width="1.4" stroke-linejoin="round" stroke-linecap="round" /><path d="M290.50,284.00 L291.80,284.44 L293.64,285.04 L295.79,285.76 L298.05,286.53 L300.19,287.30 L302.00,288.00 L303.47,288.63 L304.78,289.23 L305.97,289.83 L307.09,290.44 L308.18,291.09 L309.30,291.80 L310.40,292.62 L311.44,293.53 L312.45,294.48 L313.47,295.41 L314.55,296.27 L315.70,297.00 L316.96,297.63 L318.31,298.20 L319.70,298.71 L321.10,299.11 L322.48,299.38 L323.80,299.50 L325.14,299.39 L326.53,299.06 L327.91,298.61 L329.17,298.11 L330.23,297.68 L331.00,297.40" fill="none" stroke="#1c1c1c" stroke-width="1.4" stroke-linejoin="round" stroke-linecap="round" /></g><g clip-path="url(#cpc)"><path d="M58.60,288.00 L58.73,287.75 L58.90,287.41 L59.11,287.00 L59.36,286.57 L59.66,286.16 L60.00,285.80 L60.41,285.49 L60.88,285.19 L61.40,284.91 L61.94,284.65 L62.48,284.41 L63.00,284.20 L63.14,284.01 L62.85,283.85 L62.56,283.71 L62.70,283.59 L63.71,283.49 L66.00,283.40 L69.11,283.33 L72.59,283.27 L76.94,283.23 L82.63,283.21 L90.16,283.20 L100.00,283.20 L113.02,283.22 L129.00,283.27 L146.81,283.32 L165.33,283.39 L183.44,283.45 L200.00,283.50 L215.93,283.54 L232.30,283.58 L248.25,283.61 L262.93,283.64 L275.46,283.67 L285.00,283.70 L290.79,283.71 L293.36,283.70 L293.80,283.69 L293.17,283.70 L292.55,283.73 L293.00,283.80 L294.36,283.92 L295.72,284.09 L297.09,284.28 L298.47,284.49 L299.84,284.70 L301.20,284.90 L302.56,285.11 L303.91,285.35 L305.26,285.59 L306.60,285.81 L307.95,285.99 L309.30,286.10 L310.67,286.14 L312.06,286.11 L313.44,286.05 L314.81,285.95 L316.14,285.83 L317.40,285.70 L318.58,285.55 L319.70,285.36 L320.77,285.14 L321.83,284.92 L322.89,284.70 L324.00,284.50 L325.22,284.30 L326.56,284.09 L327.91,283.88 L329.17,283.68 L330.23,283.52 L331.00,283.40" fill="none" stroke="#000" stroke-width="2.5" stroke-linejoin="round" stroke-linecap="round" /></g><line x1="58.4" y1="274.1" x2="331.1" y2="274.1" stroke="#bbb" stroke-width="1"/><line x1="331.1" y1="274.1" x2="331.1" y2="464.5" stroke="#999" stroke-width="1"/><line x1="58.4" y1="464.5" x2="331.1" y2="464.5" stroke="#999" stroke-width="1.3"/><line x1="58.4" y1="274.1" x2="58.4" y2="464.5" stroke="#777" stroke-width="1"/><line x1="58.4" y1="465.0" x2="61.4" y2="465.0" stroke="#777" stroke-width="1"/><text x="55.5" y="470.2" font-size="14.8" fill="#5a5a5a" text-anchor="end" >0</text><line x1="58.4" y1="428.6" x2="61.4" y2="428.6" stroke="#777" stroke-width="1"/><text x="54.5" y="433.8" font-size="14.8" fill="#5a5a5a" text-anchor="end" >0.2</text><line x1="58.4" y1="392.2" x2="61.4" y2="392.2" stroke="#777" stroke-width="1"/><text x="54.5" y="397.4" font-size="14.8" fill="#5a5a5a" text-anchor="end" >0.4</text><line x1="58.4" y1="355.8" x2="61.4" y2="355.8" stroke="#777" stroke-width="1"/><text x="54.5" y="361.0" font-size="14.8" fill="#5a5a5a" text-anchor="end" >0.6</text><line x1="58.4" y1="319.4" x2="61.4" y2="319.4" stroke="#777" stroke-width="1"/><text x="54.5" y="324.59999999999997" font-size="14.8" fill="#5a5a5a" text-anchor="end" >0.8</text><line x1="58.4" y1="283.0" x2="61.4" y2="283.0" stroke="#777" stroke-width="1"/><text x="54.5" y="288.2" font-size="14.8" fill="#5a5a5a" text-anchor="end" >1</text><line x1="58.4" y1="464.5" x2="58.4" y2="461.5" stroke="#888" stroke-width="1"/><text x="58.4" y="480.5" font-size="14.8" fill="#5a5a5a" text-anchor="middle" >1.0</text><line x1="134.0" y1="464.5" x2="134.0" y2="461.5" stroke="#888" stroke-width="1"/><text x="134.0" y="480.5" font-size="14.8" fill="#5a5a5a" text-anchor="middle" >1.5</text><line x1="209.6" y1="464.5" x2="209.6" y2="461.5" stroke="#888" stroke-width="1"/><text x="209.6" y="480.5" font-size="14.8" fill="#5a5a5a" text-anchor="middle" >2.0</text><line x1="285.2" y1="464.5" x2="285.2" y2="461.5" stroke="#888" stroke-width="1"/><text x="285.2" y="480.5" font-size="14.8" fill="#5a5a5a" text-anchor="middle" >2.5</text><text x="11" y="285" font-size="14" fill="#000" text-anchor="start" font-style="italic" >c</text><text transform="translate(27.3,370.5) rotate(-90)" font-size="15.2" fill="#5a5a5a" text-anchor="middle">Braiding fidelity F</text><text x="195" y="499.5" font-size="14.8" fill="#5a5a5a" text-anchor="middle" >B/<tspan font-style="italic">B</tspan><tspan font-style="italic" font-size="10.5" dy="2.5">c</tspan></text><text x="92" y="333.6" font-size="13.5" fill="#111" text-anchor="start" font-style="italic" font-weight="bold" >L<tspan font-size="10" dy="2.5">S</tspan></text><line x1="71.2" y1="349.8" x2="84.4" y2="349.8" stroke="#a8a8a8" stroke-width="0.9"/><text x="91.5" y="354.3" font-size="12.8" fill="#111" text-anchor="start" >0.3<tspan font-style="italic">μ</tspan>m</text><line x1="71.2" y1="373.7" x2="84.4" y2="373.7" stroke="#6e6e6e" stroke-width="1.0"/><text x="91.5" y="378.2" font-size="12.8" fill="#111" text-anchor="start" >0.5<tspan font-style="italic">μ</tspan>m</text><line x1="71.2" y1="397.6" x2="84.4" y2="397.6" stroke="#3a3a3a" stroke-width="1.15"/><text x="91.5" y="402.1" font-size="12.8" fill="#111" text-anchor="start" >1<tspan font-style="italic">μ</tspan>m</text><line x1="71.2" y1="421.5" x2="84.4" y2="421.5" stroke="#1c1c1c" stroke-width="1.4"/><text x="91.5" y="426.0" font-size="12.8" fill="#111" text-anchor="start" >1.5<tspan font-style="italic">μ</tspan>m</text><line x1="71.2" y1="445.4" x2="84.4" y2="445.4" stroke="#000" stroke-width="2.6"/><text x="91.5" y="449.9" font-size="12.8" fill="#111" text-anchor="start" >2<tspan font-style="italic">μ</tspan>m</text><text x="249.2" y="430.8" font-size="15.5" fill="#111" text-anchor="middle" >MBSs</text><text x="249.3" y="451" font-size="15.5" fill="#111" text-anchor="middle" >Topological junction</text><clipPath id="cpd"><rect x="395.5" y="274.1" width="271.70000000000005" height="190.29999999999995"/></clipPath><g clip-path="url(#cpd)"><path d="M396.00,410.50 L396.21,408.99 L396.50,406.94 L396.84,404.50 L397.22,401.78 L397.61,398.90 L398.00,396.00 L398.39,392.98 L398.81,389.74 L399.25,386.34 L399.69,382.87 L400.11,379.40 L400.50,376.00 L400.87,372.62 L401.23,369.19 L401.57,365.75 L401.90,362.37 L402.21,359.10 L402.50,356.00 L402.77,353.15 L403.01,350.52 L403.24,348.00 L403.45,345.48 L403.64,342.85 L403.80,340.00 L403.93,336.90 L404.03,333.63 L404.11,330.25 L404.17,326.81 L404.23,323.38 L404.30,320.00 L404.37,316.56 L404.44,313.00 L404.50,309.44 L404.56,306.00 L404.63,302.81 L404.70,300.00 L404.77,297.58 L404.83,295.44 L404.89,293.56 L404.97,291.89 L405.07,290.38 L405.20,289.00 L405.34,287.78 L405.47,286.76 L405.63,285.91 L405.84,285.19 L406.12,284.56 L406.50,284.00 L407.06,283.53 L407.78,283.19 L408.58,282.94 L409.36,282.76 L410.03,282.62 L410.50,282.50" fill="none" stroke="#a8a8a8" stroke-width="0.9" stroke-linejoin="round" stroke-linecap="round" /><path d="M410.50,282.50 L410.86,283.22 L411.34,284.22 L411.92,285.40 L412.57,286.66 L413.27,287.89 L414.00,289.00 L414.77,290.10 L415.62,291.31 L416.51,292.49 L417.44,293.52 L418.37,294.27 L419.30,294.60 L420.24,294.46 L421.21,293.93 L422.20,293.12 L423.17,292.13 L424.11,291.05 L425.00,290.00 L425.87,288.83 L426.76,287.44 L427.61,285.96 L428.38,284.55 L429.02,283.35 L429.50,282.50" fill="none" stroke="#a8a8a8" stroke-width="0.9" stroke-linejoin="round" stroke-linecap="round" /><path d="M430.50,282.50 L430.77,284.26 L431.13,286.57 L431.56,289.38 L432.04,292.59 L432.53,296.16 L433.00,300.00 L433.46,304.37 L433.93,309.37 L434.41,314.72 L434.91,320.13 L435.44,325.32 L436.00,330.00 L436.59,334.00 L437.21,337.52 L437.85,340.81 L438.53,344.15 L439.24,347.79 L440.00,352.00 L440.82,357.11 L441.69,362.96 L442.60,369.12 L443.53,375.15 L444.47,380.59 L445.40,385.00 L446.32,388.27 L447.24,390.74 L448.16,392.62 L449.10,394.15 L450.04,395.53 L451.00,397.00 L451.89,398.47 L452.68,399.75 L453.49,400.89 L454.41,401.94 L455.54,402.96 L457.00,404.00 L458.74,405.09 L460.67,406.19 L462.83,407.26 L465.21,408.25 L467.87,409.11 L470.80,409.80 L474.09,410.31 L477.73,410.67 L481.64,410.91 L485.71,411.03 L489.86,411.06 L494.00,411.00 L498.20,410.90 L502.57,410.75 L507.01,410.51 L511.44,410.11 L515.80,409.53 L520.00,408.70 L524.18,407.53 L528.44,406.05 L532.62,404.37 L536.56,402.62 L540.11,400.92 L543.10,399.40 L545.42,398.10 L547.18,396.93 L548.54,395.81 L549.68,394.67 L550.77,393.43 L552.00,392.00 L553.34,390.38 L554.65,388.64 L555.91,386.79 L557.12,384.87 L558.25,382.90 L559.30,380.90 L560.24,378.90 L561.07,376.89 L561.82,374.82 L562.54,372.68 L563.26,370.41 L564.00,368.00 L564.78,365.44 L565.59,362.75 L566.39,359.95 L567.16,357.04 L567.87,354.02 L568.50,350.90 L569.04,347.69 L569.49,344.38 L569.89,340.96 L570.26,337.43 L570.62,333.78 L571.00,330.00 L571.39,326.00 L571.77,321.77 L572.14,317.42 L572.51,313.05 L572.86,308.78 L573.20,304.70 L573.54,300.59 L573.90,296.31 L574.24,292.12 L574.55,288.28 L574.81,285.06 L575.00,282.70" fill="none" stroke="#a8a8a8" stroke-width="0.9" stroke-linejoin="round" stroke-linecap="round" /><path d="M576.00,282.70 L576.31,284.49 L576.74,286.90 L577.25,289.79 L577.81,293.02 L578.41,296.47 L579.00,300.00 L579.58,303.71 L580.17,307.73 L580.79,311.96 L581.46,316.31 L582.19,320.69 L583.00,325.00 L583.91,329.24 L584.90,333.50 L585.96,337.78 L587.06,342.10 L588.18,346.47 L589.30,350.90 L590.42,355.62 L591.56,360.68 L592.71,365.78 L593.89,370.66 L595.08,375.02 L596.30,378.60 L597.53,381.28 L598.79,383.27 L600.06,384.75 L601.36,385.91 L602.67,386.93 L604.00,388.00 L605.24,389.06 L606.37,389.94 L607.52,390.69 L608.82,391.34 L610.40,391.93 L612.40,392.50 L614.91,393.05 L617.83,393.56 L621.04,394.01 L624.39,394.38 L627.76,394.65 L631.00,394.80 L634.16,394.81 L637.37,394.71 L640.59,394.50 L643.79,394.21 L646.93,393.87 L650.00,393.50 L653.17,393.03 L656.50,392.43 L659.79,391.77 L662.81,391.13 L665.35,390.58 L667.20,390.20" fill="none" stroke="#a8a8a8" stroke-width="0.9" stroke-linejoin="round" stroke-linecap="round" /></g><g clip-path="url(#cpd)"><path d="M396.50,376.00 L396.54,373.16 L396.60,369.22 L396.68,364.56 L396.75,359.56 L396.83,354.58 L396.90,350.00 L396.96,345.72 L397.03,341.41 L397.09,337.12 L397.15,332.93 L397.22,328.87 L397.30,325.00 L397.38,321.28 L397.47,317.67 L397.56,314.19 L397.66,310.89 L397.77,307.81 L397.90,305.00 L398.04,302.47 L398.20,300.20 L398.36,298.16 L398.55,296.30 L398.76,294.59 L399.00,293.00 L399.28,291.56 L399.58,290.30 L399.91,289.19 L400.26,288.20 L400.63,287.32 L401.00,286.50 L401.40,285.77 L401.84,285.16 L402.30,284.64 L402.74,284.20 L403.15,283.83 L403.50,283.50 L403.79,283.24 L404.04,283.07 L404.26,282.96 L404.44,282.90 L404.58,282.85 L404.70,282.80" fill="none" stroke="#6e6e6e" stroke-width="1.0" stroke-linejoin="round" stroke-linecap="round" /><path d="M404.70,282.50 L405.05,283.32 L405.53,284.44 L406.10,285.78 L406.73,287.22 L407.37,288.66 L408.00,290.00 L408.60,291.27 L409.19,292.56 L409.80,293.85 L410.46,295.12 L411.18,296.34 L412.00,297.50 L412.94,298.71 L413.98,300.00 L415.09,301.26 L416.24,302.33 L417.39,303.09 L418.50,303.40 L419.61,303.17 L420.76,302.50 L421.91,301.51 L423.02,300.34 L424.06,299.12 L425.00,298.00 L425.82,296.94 L426.54,295.84 L427.19,294.69 L427.80,293.50 L428.40,292.27 L429.00,291.00 L429.64,289.57 L430.30,287.96 L430.95,286.31 L431.54,284.76 L432.04,283.44 L432.40,282.50" fill="none" stroke="#6e6e6e" stroke-width="1.0" stroke-linejoin="round" stroke-linecap="round" /><path d="M434.00,282.50 L434.44,284.38 L435.04,286.94 L435.76,290.00 L436.53,293.33 L437.30,296.74 L438.00,300.00 L438.63,303.13 L439.23,306.30 L439.83,309.53 L440.44,312.87 L441.09,316.35 L441.80,320.00 L442.60,324.04 L443.47,328.48 L444.39,333.06 L445.30,337.52 L446.19,341.59 L447.00,345.00 L447.69,347.64 L448.26,349.70 L448.81,351.38 L449.39,352.85 L450.10,354.33 L451.00,356.00 L452.10,357.83 L453.33,359.64 L454.68,361.46 L456.14,363.29 L457.68,365.13 L459.30,367.00 L461.03,368.98 L462.91,371.07 L464.87,373.18 L466.87,375.21 L468.86,377.05 L470.80,378.60 L472.67,379.84 L474.53,380.84 L476.37,381.65 L478.22,382.33 L480.09,382.93 L482.00,383.50 L483.91,384.02 L485.79,384.46 L487.70,384.81 L489.67,385.09 L491.76,385.32 L494.00,385.50 L496.50,385.64 L499.26,385.72 L502.12,385.75 L504.96,385.72 L507.63,385.64 L510.00,385.50 L512.01,385.31 L513.78,385.07 L515.38,384.78 L516.89,384.43 L518.40,384.00 L520.00,383.50 L521.63,382.95 L523.22,382.37 L524.81,381.72 L526.44,380.97 L528.15,380.07 L530.00,379.00 L532.05,377.69 L534.29,376.17 L536.62,374.51 L538.93,372.77 L541.12,371.05 L543.10,369.40 L544.84,367.84 L546.44,366.33 L547.91,364.81 L549.31,363.27 L550.66,361.68 L552.00,360.00 L553.34,358.23 L554.65,356.39 L555.91,354.50 L557.12,352.56 L558.25,350.59 L559.30,348.60 L560.24,346.60 L561.07,344.59 L561.82,342.54 L562.54,340.44 L563.26,338.26 L564.00,336.00 L564.77,333.62 L565.55,331.15 L566.33,328.60 L567.08,326.01 L567.81,323.40 L568.50,320.80 L569.14,318.20 L569.74,315.59 L570.31,312.95 L570.87,310.30 L571.43,307.65 L572.00,305.00 L572.60,302.23 L573.22,299.33 L573.84,296.42 L574.44,293.64 L575.00,291.12 L575.50,289.00 L575.94,287.29 L576.35,285.89 L576.72,284.75 L577.04,283.83 L577.30,283.10 L577.50,282.50" fill="none" stroke="#6e6e6e" stroke-width="1.0" stroke-linejoin="round" stroke-linecap="round" /><path d="M578.00,282.50 L578.54,284.13 L579.30,286.35 L580.19,289.00 L581.15,291.93 L582.11,294.98 L583.00,298.00 L583.82,301.06 L584.63,304.29 L585.44,307.64 L586.26,311.07 L587.11,314.54 L588.00,318.00 L588.91,321.51 L589.81,325.11 L590.74,328.74 L591.73,332.36 L592.80,335.90 L594.00,339.30 L595.29,342.67 L596.66,346.06 L598.11,349.38 L599.67,352.51 L601.36,355.35 L603.20,357.80 L605.18,359.83 L607.29,361.51 L609.52,362.91 L611.88,364.07 L614.37,365.05 L617.00,365.90 L619.86,366.59 L622.97,367.07 L626.21,367.36 L629.46,367.51 L632.59,367.55 L635.50,367.50 L638.12,367.33 L640.53,367.01 L642.83,366.58 L645.11,366.07 L647.47,365.53 L650.00,365.00 L652.91,364.41 L656.17,363.72 L659.51,362.99 L662.64,362.30 L665.30,361.72 L667.20,361.30" fill="none" stroke="#6e6e6e" stroke-width="1.0" stroke-linejoin="round" stroke-linecap="round" /></g><g clip-path="url(#cpd)"><path d="M395.80,302.50 L396.04,302.77 L396.38,303.15 L396.78,303.60 L397.20,304.08 L397.62,304.56 L398.00,305.00 L398.34,305.41 L398.66,305.81 L398.98,306.22 L399.30,306.62 L399.64,307.01 L400.00,307.40 L400.40,307.78 L400.83,308.16 L401.27,308.53 L401.71,308.90 L402.12,309.25 L402.50,309.60 L402.85,309.96 L403.19,310.33 L403.51,310.69 L403.79,311.02 L404.02,311.30 L404.20,311.50" fill="none" stroke="#3a3a3a" stroke-width="1.15" stroke-linejoin="round" stroke-linecap="round" /><path d="M404.30,311.50 L404.32,310.28 L404.36,308.61 L404.39,306.62 L404.43,304.44 L404.47,302.19 L404.50,300.00 L404.52,297.65 L404.54,295.00 L404.56,292.28 L404.58,289.72 L404.59,287.55 L404.60,286.00" fill="none" stroke="#3a3a3a" stroke-width="1.15" stroke-linejoin="round" stroke-linecap="round" /><path d="M404.80,286.00 L404.82,287.55 L404.85,289.71 L404.88,292.26 L404.92,294.98 L404.96,297.63 L405.00,300.00 L404.99,302.22 L404.93,304.50 L404.87,306.71 L404.87,308.75 L404.99,310.48 L405.30,311.80 L405.81,312.60 L406.49,312.96 L407.29,313.02 L408.17,312.93 L409.09,312.80 L410.00,312.80 L410.95,312.89 L411.98,312.96 L413.04,313.01 L414.10,313.03 L415.10,313.03 L416.00,313.00 L416.75,313.00 L417.37,313.04 L417.94,313.06 L418.52,312.98 L419.18,312.75 L420.00,312.30 L420.99,311.61 L422.09,310.71 L423.28,309.67 L424.51,308.51 L425.76,307.27 L427.00,306.00 L428.22,304.64 L429.46,303.14 L430.71,301.57 L431.99,299.99 L433.28,298.44 L434.60,297.00 L435.95,295.66 L437.31,294.37 L438.71,293.12 L440.12,291.91 L441.55,290.70 L443.00,289.50 L444.58,288.22 L446.32,286.87 L448.07,285.53 L449.71,284.30 L451.10,283.26 L452.10,282.50" fill="none" stroke="#3a3a3a" stroke-width="1.15" stroke-linejoin="round" stroke-linecap="round" /><path d="M454.30,282.50 L455.37,284.44 L456.89,287.17 L458.66,290.39 L460.53,293.77 L462.30,297.01 L463.80,299.80 L465.00,302.14 L466.03,304.28 L466.97,306.28 L467.89,308.20 L468.88,310.08 L470.00,312.00 L471.29,313.97 L472.70,315.95 L474.17,317.91 L475.65,319.79 L477.08,321.57 L478.40,323.20 L479.59,324.66 L480.68,325.98 L481.72,327.19 L482.76,328.32 L483.84,329.42 L485.00,330.50 L486.26,331.59 L487.60,332.66 L488.98,333.69 L490.36,334.65 L491.71,335.53 L493.00,336.30 L494.22,336.95 L495.39,337.49 L496.53,337.95 L497.66,338.34 L498.81,338.68 L500.00,339.00 L501.18,339.28 L502.31,339.52 L503.46,339.71 L504.69,339.86 L506.05,339.95 L507.60,340.00 L509.41,340.01 L511.43,339.97 L513.59,339.89 L515.79,339.75 L517.96,339.56 L520.00,339.30 L521.90,339.00 L523.73,338.66 L525.52,338.26 L527.30,337.78 L529.12,337.20 L531.00,336.50 L532.99,335.65 L535.07,334.66 L537.18,333.57 L539.26,332.42 L541.26,331.25 L543.10,330.10 L544.79,328.98 L546.36,327.86 L547.85,326.72 L549.27,325.54 L550.65,324.31 L552.00,323.00 L553.32,321.61 L554.57,320.14 L555.79,318.62 L556.97,317.07 L558.14,315.49 L559.30,313.90 L560.47,312.25 L561.65,310.53 L562.81,308.77 L563.93,307.06 L565.00,305.45 L566.00,304.00 L566.91,302.77 L567.73,301.72 L568.49,300.77 L569.24,299.84 L570.00,298.85 L570.80,297.70 L571.66,296.36 L572.55,294.89 L573.45,293.35 L574.34,291.81 L575.20,290.34 L576.00,289.00 L576.78,287.74 L577.57,286.49 L578.33,285.31 L579.01,284.24 L579.58,283.36 L580.00,282.70" fill="none" stroke="#3a3a3a" stroke-width="1.15" stroke-linejoin="round" stroke-linecap="round" /><path d="M580.00,282.70 L580.60,283.23 L581.40,283.91 L582.36,284.74 L583.46,285.71 L584.68,286.80 L586.00,288.00 L587.50,289.37 L589.21,290.94 L591.04,292.63 L592.90,294.37 L594.68,296.08 L596.30,297.70 L597.73,299.23 L599.03,300.75 L600.27,302.24 L601.48,303.70 L602.71,305.12 L604.00,306.50 L605.32,307.84 L606.63,309.14 L607.96,310.40 L609.34,311.62 L610.81,312.79 L612.40,313.90 L614.15,314.97 L616.03,316.01 L618.01,317.01 L620.02,317.93 L622.04,318.77 L624.00,319.50 L625.89,320.14 L627.73,320.69 L629.57,321.16 L631.45,321.54 L633.41,321.82 L635.50,322.00 L637.71,322.07 L640.01,322.02 L642.39,321.88 L644.86,321.66 L647.39,321.36 L650.00,321.00 L652.91,320.51 L656.17,319.86 L659.51,319.14 L662.64,318.43 L665.30,317.82 L667.20,317.40" fill="none" stroke="#3a3a3a" stroke-width="1.15" stroke-linejoin="round" stroke-linecap="round" /></g><g clip-path="url(#cpd)"><path d="M396.50,325.00 L396.87,324.28 L397.36,323.27 L397.94,322.07 L398.63,320.83 L399.42,319.67 L400.30,318.70 L401.33,317.91 L402.54,317.21 L403.84,316.58 L405.17,316.01 L406.45,315.52 L407.60,315.10 L408.58,314.77 L409.43,314.55 L410.24,314.39 L411.07,314.27 L412.00,314.15 L413.10,314.00 L414.34,313.84 L415.66,313.71 L417.08,313.58 L418.63,313.42 L420.32,313.20 L422.20,312.90 L424.32,312.52 L426.66,312.08 L429.16,311.58 L431.73,311.02 L434.30,310.40 L436.80,309.70 L439.31,308.90 L441.91,307.99 L444.52,307.02 L447.03,306.02 L449.35,305.03 L451.40,304.10 L453.12,303.20 L454.57,302.31 L455.84,301.43 L457.00,300.57 L458.13,299.76 L459.30,299.00 L460.51,298.31 L461.69,297.68 L462.84,297.09 L463.95,296.53 L465.01,295.97 L466.00,295.40 L466.92,294.84 L467.77,294.33 L468.57,293.81 L469.33,293.27 L470.07,292.68 L470.80,292.00 L471.51,291.20 L472.19,290.30 L472.84,289.34 L473.48,288.38 L474.13,287.45 L474.80,286.60 L475.54,285.79 L476.34,284.99 L477.15,284.21 L477.90,283.51 L478.54,282.93 L479.00,282.50" fill="none" stroke="#1c1c1c" stroke-width="1.4" stroke-linejoin="round" stroke-linecap="round" /><path d="M479.00,282.50 L479.85,283.07 L481.00,283.83 L482.38,284.75 L483.89,285.78 L485.46,286.88 L487.00,288.00 L488.54,289.21 L490.15,290.54 L491.81,291.94 L493.52,293.35 L495.25,294.72 L497.00,296.00 L498.76,297.20 L500.56,298.37 L502.38,299.50 L504.22,300.57 L506.10,301.58 L508.00,302.50 L509.94,303.34 L511.93,304.12 L513.94,304.82 L515.96,305.46 L517.99,306.02 L520.00,306.50 L522.01,306.91 L524.03,307.27 L526.06,307.54 L528.07,307.73 L530.05,307.82 L532.00,307.80 L533.89,307.64 L535.74,307.36 L537.56,306.98 L539.37,306.53 L541.21,306.02 L543.10,305.50 L545.05,304.94 L547.03,304.33 L549.04,303.66 L551.06,302.96 L553.05,302.24 L555.00,301.50 L556.82,300.79 L558.51,300.10 L560.19,299.38 L561.95,298.59 L563.92,297.68 L566.20,296.60 L568.91,295.26 L572.00,293.70 L575.28,292.01 L578.60,290.30 L581.80,288.70 L584.70,287.30 L587.44,286.06 L590.19,284.89 L592.81,283.82 L595.17,282.87 L597.14,282.09 L598.60,281.50" fill="none" stroke="#1c1c1c" stroke-width="1.4" stroke-linejoin="round" stroke-linecap="round" /><path d="M598.60,281.50 L600.07,282.22 L602.13,283.24 L604.55,284.43 L607.14,285.70 L609.69,286.92 L612.00,288.00 L614.07,288.95 L616.07,289.87 L618.02,290.74 L619.98,291.58 L621.96,292.36 L624.00,293.10 L626.12,293.79 L628.28,294.44 L630.48,295.04 L632.67,295.59 L634.86,296.08 L637.00,296.50 L639.04,296.85 L640.98,297.15 L642.90,297.38 L644.89,297.55 L647.03,297.66 L649.40,297.70 L652.26,297.64 L655.59,297.46 L659.08,297.23 L662.39,296.97 L665.20,296.75 L667.20,296.60" fill="none" stroke="#1c1c1c" stroke-width="1.4" stroke-linejoin="round" stroke-linecap="round" /></g><g clip-path="url(#cpd)"><path d="M395.90,286.50 L396.31,286.27 L396.83,285.96 L397.47,285.58 L398.22,285.19 L399.07,284.82 L400.00,284.50 L401.08,284.24 L402.32,284.00 L403.66,283.78 L405.03,283.57 L406.36,283.38 L407.60,283.20 L408.72,283.03 L409.76,282.88 L410.76,282.74 L411.78,282.62 L412.84,282.50 L414.00,282.40 L414.46,282.31 L414.02,282.24 L413.64,282.17 L414.24,282.12 L416.78,282.06 L422.20,282.00 L430.10,281.93 L439.67,281.86 L451.16,281.78 L464.87,281.71 L481.05,281.65 L500.00,281.60 L524.63,281.56 L555.30,281.54 L588.46,281.53 L620.54,281.51 L647.97,281.51 L667.20,281.50" fill="none" stroke="#000" stroke-width="2.5" stroke-linejoin="round" stroke-linecap="round" /></g><line x1="396.9" y1="321" x2="396.9" y2="352" stroke="#000" stroke-width="2"/><line x1="395.5" y1="274.1" x2="667.2" y2="274.1" stroke="#bbb" stroke-width="1"/><line x1="667.2" y1="274.1" x2="667.2" y2="464.4" stroke="#999" stroke-width="1"/><line x1="395.5" y1="464.4" x2="667.2" y2="464.4" stroke="#999" stroke-width="1.3"/><line x1="395.5" y1="274.1" x2="395.5" y2="464.4" stroke="#777" stroke-width="1"/><line x1="395.5" y1="464.3" x2="398.5" y2="464.3" stroke="#777" stroke-width="1"/><text x="387.5" y="469.5" font-size="14.8" fill="#5a5a5a" text-anchor="end" >0</text><line x1="395.5" y1="427.9" x2="398.5" y2="427.9" stroke="#777" stroke-width="1"/><text x="391.6" y="433.14" font-size="14.8" fill="#5a5a5a" text-anchor="end" >0.2</text><line x1="395.5" y1="391.6" x2="398.5" y2="391.6" stroke="#777" stroke-width="1"/><text x="391.6" y="396.78000000000003" font-size="14.8" fill="#5a5a5a" text-anchor="end" >0.4</text><line x1="395.5" y1="355.2" x2="398.5" y2="355.2" stroke="#777" stroke-width="1"/><text x="391.6" y="360.42" font-size="14.8" fill="#5a5a5a" text-anchor="end" >0.6</text><line x1="395.5" y1="318.9" x2="398.5" y2="318.9" stroke="#777" stroke-width="1"/><text x="391.6" y="324.06" font-size="14.8" fill="#5a5a5a" text-anchor="end" >0.8</text><line x1="395.5" y1="282.5" x2="398.5" y2="282.5" stroke="#777" stroke-width="1"/><text x="391.6" y="287.7" font-size="14.8" fill="#5a5a5a" text-anchor="end" >1.</text><line x1="395.5" y1="464.4" x2="395.5" y2="461.4" stroke="#888" stroke-width="1"/><text x="395.5" y="480" font-size="14.8" fill="#5a5a5a" text-anchor="middle" >1.0</text><line x1="470.8" y1="464.4" x2="470.8" y2="461.4" stroke="#888" stroke-width="1"/><text x="470.8" y="480" font-size="14.8" fill="#5a5a5a" text-anchor="middle" >1.5</text><line x1="546.1" y1="464.4" x2="546.1" y2="461.4" stroke="#888" stroke-width="1"/><text x="546.1" y="480" font-size="14.8" fill="#5a5a5a" text-anchor="middle" >2.0</text><line x1="621.4" y1="464.4" x2="621.4" y2="461.4" stroke="#888" stroke-width="1"/><text x="621.4" y="480" font-size="14.8" fill="#5a5a5a" text-anchor="middle" >2.5</text><text x="368.5" y="285" font-size="15" fill="#000" text-anchor="start" font-style="italic" >d</text><text x="531" y="501" font-size="14.8" fill="#5a5a5a" text-anchor="middle" >B/<tspan font-style="italic">μ</tspan><tspan font-style="italic" font-size="10.5" dy="2.5">N</tspan></text><text x="429.4" y="333.6" font-size="13.5" fill="#111" text-anchor="start" font-style="italic" font-weight="bold" >T<tspan font-size="10" dy="2.5">N</tspan></text><line x1="402" y1="349.0" x2="415.2" y2="349.0" stroke="#a8a8a8" stroke-width="0.9"/><text x="422.8" y="353.5" font-size="12.8" fill="#111" text-anchor="start" >T<tspan font-size="9" dy="2.5">N</tspan><tspan dy="-2.5">=0.7</tspan></text><line x1="402" y1="373.1" x2="415.2" y2="373.1" stroke="#6e6e6e" stroke-width="1.0"/><text x="422.8" y="377.6" font-size="12.8" fill="#111" text-anchor="start" >T<tspan font-size="9" dy="2.5">N</tspan><tspan dy="-2.5">=0.8</tspan></text><line x1="402" y1="397.2" x2="415.2" y2="397.2" stroke="#3a3a3a" stroke-width="1.15"/><text x="422.8" y="401.7" font-size="12.8" fill="#111" text-anchor="start" >T<tspan font-size="9" dy="2.5">N</tspan><tspan dy="-2.5">=0.9</tspan></text><line x1="402" y1="421.3" x2="415.2" y2="421.3" stroke="#1c1c1c" stroke-width="1.4"/><text x="422.8" y="425.8" font-size="12.8" fill="#111" text-anchor="start" >T<tspan font-size="9" dy="2.5">N</tspan><tspan dy="-2.5">=0.95</tspan></text><line x1="402" y1="445.4" x2="415.2" y2="445.4" stroke="#000" stroke-width="2.6"/><text x="422.8" y="449.9" font-size="12.8" fill="#111" text-anchor="start" >T<tspan font-size="9" dy="2.5">N</tspan><tspan dy="-2.5"><tspan font-size="11.5">≃</tspan>1</tspan></text><text x="572.5" y="431.2" font-size="15.5" fill="#8e2c30" text-anchor="middle" >MDSs</text><text x="572.3" y="452.3" font-size="15.3" fill="#8e2c30" text-anchor="middle" >Non‒topological junction</text><clipPath id="cpe1"><rect x="60.5" y="520.2" width="268.5" height="133.5999999999999"/></clipPath><clipPath id="cpe2"><rect x="60.5" y="677.3" width="268.5" height="133.5"/></clipPath><rect x="60.5" y="520.2" width="268.5" height="66.79999999999995" fill="url(#hg1)"/><rect x="60.5" y="587.0" width="268.5" height="66.79999999999995" fill="url(#hg2)"/><rect x="60.5" y="677.3" width="268.5" height="66.70000000000005" fill="url(#hg3)"/><rect x="60.5" y="744.0" width="268.5" height="66.79999999999995" fill="url(#hg4)"/><g clip-path="url(#cpe1)"><g filter="url(#bl07)"><ellipse cx="148.7" cy="587.9" rx="3.5" ry="1.1" fill="rgb(60,70,175)" fill-opacity="0.17" transform="rotate(-6 150.0 587.0)"/><ellipse cx="151.3" cy="586.1" rx="3.5" ry="1.1" fill="rgb(220,50,50)" fill-opacity="0.17" transform="rotate(-6 150.0 587.0)"/><ellipse cx="158.1" cy="587.9" rx="4.0" ry="1.3" fill="rgb(60,70,175)" fill-opacity="0.33" transform="rotate(-6 159.5 587.0)"/><ellipse cx="160.9" cy="586.1" rx="4.0" ry="1.3" fill="rgb(220,50,50)" fill-opacity="0.33" transform="rotate(-6 159.5 587.0)"/><ellipse cx="170.4" cy="587.9" rx="4.5" ry="1.4" fill="rgb(60,70,175)" fill-opacity="0.55" transform="rotate(-6 172.0 587.0)"/><ellipse cx="173.6" cy="586.1" rx="4.5" ry="1.4" fill="rgb(220,50,50)" fill-opacity="0.55" transform="rotate(-6 172.0 587.0)"/><ellipse cx="183.8" cy="587.9" rx="7.5" ry="1.9" fill="rgb(60,70,175)" fill-opacity="1.00" transform="rotate(-6 186.5 587.0)"/><ellipse cx="189.2" cy="586.1" rx="7.5" ry="1.9" fill="rgb(220,50,50)" fill-opacity="1.00" transform="rotate(-6 186.5 587.0)"/><ellipse cx="198.6" cy="587.9" rx="4.0" ry="1.6" fill="rgb(60,70,175)" fill-opacity="0.72" transform="rotate(-6 200.0 587.0)"/><ellipse cx="201.4" cy="586.1" rx="4.0" ry="1.6" fill="rgb(220,50,50)" fill-opacity="0.72" transform="rotate(-6 200.0 587.0)"/><ellipse cx="210.0" cy="587.9" rx="5.5" ry="1.5" fill="rgb(60,70,175)" fill-opacity="0.61" transform="rotate(-6 212.0 587.0)"/><ellipse cx="214.0" cy="586.1" rx="5.5" ry="1.5" fill="rgb(220,50,50)" fill-opacity="0.61" transform="rotate(-6 212.0 587.0)"/><ellipse cx="223.6" cy="587.9" rx="4.0" ry="1.2" fill="rgb(60,70,175)" fill-opacity="0.28" transform="rotate(-6 225.0 587.0)"/><ellipse cx="226.4" cy="586.1" rx="4.0" ry="1.2" fill="rgb(220,50,50)" fill-opacity="0.28" transform="rotate(-6 225.0 587.0)"/><ellipse cx="234.7" cy="587.9" rx="3.5" ry="1.1" fill="rgb(60,70,175)" fill-opacity="0.13" transform="rotate(-6 236.0 587.0)"/><ellipse cx="237.3" cy="586.1" rx="3.5" ry="1.1" fill="rgb(220,50,50)" fill-opacity="0.13" transform="rotate(-6 236.0 587.0)"/></g></g><g clip-path="url(#cpe2)"><g filter="url(#bl07)"><ellipse cx="147.0" cy="743.4" rx="3.6" ry="1.2" fill="rgb(62,72,172)" fill-opacity="0.20" transform="rotate(-4 147.0 744.0)"/><ellipse cx="159.5" cy="743.4" rx="4.7" ry="1.6" fill="rgb(62,72,172)" fill-opacity="0.45" transform="rotate(-4 159.5 744.0)"/><ellipse cx="172.0" cy="743.4" rx="5.2" ry="1.9" fill="rgb(62,72,172)" fill-opacity="0.60" transform="rotate(-4 172.0 744.0)"/><ellipse cx="187.0" cy="743.4" rx="7.8" ry="2.5" fill="rgb(62,72,172)" fill-opacity="1.00" transform="rotate(-4 187.0 744.0)"/><ellipse cx="201.0" cy="743.4" rx="4.7" ry="2.0" fill="rgb(62,72,172)" fill-opacity="0.70" transform="rotate(-4 201.0 744.0)"/><ellipse cx="213.0" cy="743.4" rx="6.2" ry="1.9" fill="rgb(62,72,172)" fill-opacity="0.60" transform="rotate(-4 213.0 744.0)"/><ellipse cx="227.0" cy="743.4" rx="4.2" ry="1.5" fill="rgb(62,72,172)" fill-opacity="0.35" transform="rotate(-4 227.0 744.0)"/><ellipse cx="240.0" cy="743.4" rx="3.6" ry="1.2" fill="rgb(62,72,172)" fill-opacity="0.18" transform="rotate(-4 240.0 744.0)"/></g></g><rect x="193.6" y="520.2" width="2.6" height="133.5999999999999" fill="#fff"/><line x1="60.5" y1="520.2" x2="329.0" y2="520.2" stroke="#999" stroke-width="1"/><line x1="329.0" y1="520.2" x2="329.0" y2="653.8" stroke="#aaa" stroke-width="1"/><line x1="60.5" y1="653.8" x2="329.0" y2="653.8" stroke="#999" stroke-width="1.3"/><line x1="60.5" y1="520.2" x2="60.5" y2="653.8" stroke="#999" stroke-width="1"/><rect x="193.6" y="677.3" width="2.6" height="133.5" fill="#fff"/><line x1="60.5" y1="677.3" x2="329.0" y2="677.3" stroke="#999" stroke-width="1"/><line x1="329.0" y1="677.3" x2="329.0" y2="810.8" stroke="#aaa" stroke-width="1"/><line x1="60.5" y1="810.8" x2="329.0" y2="810.8" stroke="#999" stroke-width="1.3"/><line x1="60.5" y1="677.3" x2="60.5" y2="810.8" stroke="#999" stroke-width="1"/><clipPath id="cpf1t"><rect x="397.7" y="520.3" width="268.50000000000006" height="66.5"/></clipPath><clipPath id="cpf1b"><rect x="397.7" y="586.8" width="268.50000000000006" height="67.40000000000009"/></clipPath><clipPath id="cpf2t"><rect x="397.7" y="677.5" width="268.50000000000006" height="66.5"/></clipPath><clipPath id="cpf2b"><rect x="397.7" y="744.0" width="268.50000000000006" height="66.60000000000002"/></clipPath><rect x="397.7" y="520.3" width="268.50000000000006" height="66.5" fill="url(#hg5)"/><rect x="397.7" y="586.8" width="268.50000000000006" height="67.40000000000009" fill="url(#hg6)"/><rect x="397.7" y="677.5" width="268.50000000000006" height="66.5" fill="url(#hg7)"/><rect x="397.7" y="744.0" width="268.50000000000006" height="66.60000000000002" fill="url(#hg8)"/><g clip-path="url(#cpf1t)"><g filter="url(#bl2)"><rect x="469.8" y="520.3" width="8" height="66.5" fill="url(#flUp)"/><rect x="487.2" y="520.3" width="8" height="66.5" fill="url(#flUp)"/><rect x="506" y="520.3" width="8" height="66.5" fill="url(#flUp)"/><rect x="524.2" y="520.3" width="8" height="66.5" fill="url(#flUp)"/><rect x="543" y="520.3" width="8" height="66.5" fill="url(#flUp)"/><rect x="562" y="520.3" width="8" height="66.5" fill="url(#flUp)"/><rect x="462" y="570.8" width="108" height="16" fill="url(#hzUp)"/></g><g filter="url(#bl1)"><ellipse cx="449.6" cy="587.0999999999999" rx="3.2" ry="5.6" fill="rgb(214,44,40)"/><ellipse cx="460.5" cy="587.0999999999999" rx="3.2" ry="5.6" fill="rgb(214,44,40)"/><ellipse cx="473.8" cy="587.0999999999999" rx="5.6" ry="5.6" fill="rgb(214,44,40)"/><ellipse cx="491.2" cy="587.0999999999999" rx="5.6" ry="5.6" fill="rgb(214,44,40)"/><ellipse cx="510" cy="587.0999999999999" rx="5.6" ry="5.6" fill="rgb(214,44,40)"/><ellipse cx="528.2" cy="587.0999999999999" rx="5.6" ry="5.6" fill="rgb(214,44,40)"/><ellipse cx="547" cy="587.0999999999999" rx="5.6" ry="5.6" fill="rgb(214,44,40)"/><ellipse cx="566" cy="587.0999999999999" rx="5.6" ry="5.6" fill="rgb(214,44,40)"/><rect x="447.7" y="582.8" width="24" height="4.5" fill="rgb(214,44,40)"/></g><g filter="url(#bl07)"><rect x="399.4" y="572.8" width="3.2" height="14" fill="url(#pkUp)" fill-opacity="0.30"/><rect x="407.09999999999997" y="572.8" width="3.2" height="14" fill="url(#pkUp)" fill-opacity="0.34"/><rect x="414.7" y="572.8" width="3.2" height="14" fill="url(#pkUp)" fill-opacity="0.38"/><rect x="422.4" y="572.8" width="3.2" height="14" fill="url(#pkUp)" fill-opacity="0.43"/><rect x="429.79999999999995" y="572.8" width="3.2" height="14" fill="url(#pkUp)" fill-opacity="0.50"/><rect x="437.7" y="572.8" width="3.2" height="14" fill="url(#pkUp)" fill-opacity="0.63"/><rect x="452.6" y="578.8" width="2.8" height="8" fill="#fff" fill-opacity="0.9"/></g><line x1="574.5" y1="585.4" x2="600" y2="585.4" stroke="#fff" stroke-opacity="0.8" stroke-width="1.4" stroke-dasharray="6.5 8"/><ellipse cx="610.4" cy="587.3" rx="4.4" ry="2.6" fill="#fff" fill-opacity="0.85" filter="url(#bl1)"/></g><rect x="615" y="582.3" width="51.200000000000045" height="4.5" fill="url(#fadeP)"/><g clip-path="url(#cpf1b)"><g filter="url(#bl2)"><rect x="486.7" y="586.8" width="9" height="26" fill="url(#flDn)"/><rect x="505.5" y="586.8" width="9" height="26" fill="url(#flDn)"/><rect x="523.7" y="586.8" width="9" height="26" fill="url(#flDn)"/><rect x="542.5" y="586.8" width="9" height="26" fill="url(#flDn)"/><rect x="561.5" y="586.8" width="9" height="26" fill="url(#flDn)"/></g><g filter="url(#bl1)"><ellipse cx="587.5" cy="586.8" rx="13.5" ry="6.5" fill="rgb(60,78,165)"/><ellipse cx="610.4" cy="588.3" rx="3.8" ry="3.2" fill="rgb(60,78,165)"/><ellipse cx="621.3" cy="589.1999999999999" rx="2.1" ry="2" fill="rgb(70,85,170)" fill-opacity="0.80"/><ellipse cx="629.8" cy="589.1999999999999" rx="2.1" ry="2" fill="rgb(70,85,170)" fill-opacity="0.69"/><ellipse cx="637.6" cy="589.1999999999999" rx="2.1" ry="2" fill="rgb(70,85,170)" fill-opacity="0.58"/><ellipse cx="645.3" cy="589.1999999999999" rx="2.1" ry="2" fill="rgb(70,85,170)" fill-opacity="0.47"/><ellipse cx="652.9" cy="589.1999999999999" rx="2.1" ry="2" fill="rgb(70,85,170)" fill-opacity="0.36"/><ellipse cx="660.5" cy="589.1999999999999" rx="2.1" ry="2" fill="rgb(70,85,170)" fill-opacity="0.25"/></g></g><g clip-path="url(#cpf2t)"><rect x="397.7" y="733.0" width="47.60000000000002" height="11" fill="url(#fadeG)"/><g filter="url(#bl2)"><rect x="486.7" y="714.0" width="9" height="30" fill="url(#flUpB)"/><rect x="505.5" y="714.0" width="9" height="30" fill="url(#flUpB)"/><rect x="523.7" y="714.0" width="9" height="30" fill="url(#flUpB)"/><rect x="542.5" y="714.0" width="9" height="30" fill="url(#flUpB)"/><rect x="561.5" y="714.0" width="9" height="30" fill="url(#flUpB)"/></g><g filter="url(#bl1)"><ellipse cx="587.5" cy="745.0" rx="14.2" ry="10" fill="rgb(60,78,165)"/><ellipse cx="610.8" cy="741.0" rx="3.8" ry="3.6" fill="rgb(60,78,165)"/><ellipse cx="621.3" cy="741.0" rx="2.1" ry="2.2" fill="rgb(70,85,170)" fill-opacity="0.70"/><ellipse cx="629.8" cy="741.0" rx="2.1" ry="2.2" fill="rgb(70,85,170)" fill-opacity="0.61"/><ellipse cx="637.6" cy="741.0" rx="2.1" ry="2.2" fill="rgb(70,85,170)" fill-opacity="0.52"/><ellipse cx="645.3" cy="741.0" rx="2.1" ry="2.2" fill="rgb(70,85,170)" fill-opacity="0.43"/><ellipse cx="652.9" cy="741.0" rx="2.1" ry="2.2" fill="rgb(70,85,170)" fill-opacity="0.34"/><ellipse cx="660.5" cy="741.0" rx="2.1" ry="2.2" fill="rgb(70,85,170)" fill-opacity="0.25"/><ellipse cx="401.0" cy="744.5" rx="1.8" ry="1.8" fill="rgb(120,130,200)" fill-opacity="0.20"/><ellipse cx="408.7" cy="744.5" rx="1.8" ry="1.8" fill="rgb(120,130,200)" fill-opacity="0.24"/><ellipse cx="416.3" cy="744.5" rx="1.8" ry="1.8" fill="rgb(120,130,200)" fill-opacity="0.28"/><ellipse cx="424.0" cy="744.5" rx="1.8" ry="1.8" fill="rgb(120,130,200)" fill-opacity="0.33"/><ellipse cx="431.4" cy="744.5" rx="1.8" ry="1.8" fill="rgb(120,130,200)" fill-opacity="0.40"/><ellipse cx="439.3" cy="744.5" rx="1.8" ry="1.8" fill="rgb(120,130,200)" fill-opacity="0.53"/></g><line x1="574" y1="743.8" x2="602" y2="743.8" stroke="#fff" stroke-opacity="0.9" stroke-width="1.5" stroke-dasharray="6 8"/></g><rect x="615.5" y="744.0" width="50.700000000000045" height="4" fill="url(#fadeL)"/><g clip-path="url(#cpf2b)"><g filter="url(#bl2)"><rect x="455.5" y="744.0" width="10" height="66.60000000000002" fill="url(#flDn)"/><rect x="468.8" y="744.0" width="10" height="66.60000000000002" fill="url(#flDn)"/><rect x="486.2" y="744.0" width="10" height="66.60000000000002" fill="url(#flDn)"/><rect x="505" y="744.0" width="10" height="66.60000000000002" fill="url(#flDn)"/><rect x="523.2" y="744.0" width="10" height="66.60000000000002" fill="url(#flDn)"/><rect x="542" y="744.0" width="10" height="66.60000000000002" fill="url(#flDn)"/><rect x="561" y="744.0" width="10" height="66.60000000000002" fill="url(#flDn)"/><rect x="455" y="744.0" width="115" height="16" fill="url(#hzDn)"/></g><g filter="url(#bl1)"><ellipse cx="450.1" cy="746.0" rx="4" ry="3.6" fill="rgb(62,80,165)"/><ellipse cx="461.1" cy="746.0" rx="4" ry="3.6" fill="rgb(62,80,165)"/><ellipse cx="474.2" cy="746.0" rx="5.8" ry="3.6" fill="rgb(62,80,165)"/><ellipse cx="491.7" cy="746.0" rx="5.8" ry="3.6" fill="rgb(62,80,165)"/><ellipse cx="510" cy="746.0" rx="5.8" ry="3.6" fill="rgb(62,80,165)"/><ellipse cx="528.2" cy="746.0" rx="5.8" ry="3.6" fill="rgb(62,80,165)"/><ellipse cx="548.2" cy="746.0" rx="5.8" ry="3.6" fill="rgb(62,80,165)"/><ellipse cx="566.7" cy="746.0" rx="5.8" ry="3.6" fill="rgb(62,80,165)"/></g><line x1="448.2" y1="743.7" x2="572" y2="743.7" stroke="#fff" stroke-opacity="0.7" stroke-width="1"/></g><line x1="397.7" y1="520.3" x2="666.2" y2="520.3" stroke="#999" stroke-width="1"/><line x1="666.2" y1="520.3" x2="666.2" y2="654.2" stroke="#aaa" stroke-width="1"/><line x1="397.7" y1="654.2" x2="666.2" y2="654.2" stroke="#999" stroke-width="1.3"/><line x1="397.7" y1="520.3" x2="397.7" y2="654.2" stroke="#999" stroke-width="1"/><line x1="397.7" y1="677.5" x2="666.2" y2="677.5" stroke="#999" stroke-width="1"/><line x1="666.2" y1="677.5" x2="666.2" y2="810.6" stroke="#aaa" stroke-width="1"/><line x1="397.7" y1="810.6" x2="666.2" y2="810.6" stroke="#999" stroke-width="1.3"/><line x1="397.7" y1="677.5" x2="397.7" y2="810.6" stroke="#999" stroke-width="1"/><text x="13" y="524" font-size="15" fill="#000" text-anchor="start" font-style="italic" >e</text><text x="369.5" y="523" font-size="15" fill="#000" text-anchor="start" font-style="italic" >f</text><text x="56.5" y="524" font-size="14.8" fill="#5a5a5a" text-anchor="end" >2 <tspan font-style="italic">π</tspan></text><text x="56.5" y="591.3" font-size="14.8" fill="#5a5a5a" text-anchor="end" ><tspan font-style="italic">π</tspan></text><text x="57.3" y="657.8" font-size="14.8" fill="#5a5a5a" text-anchor="end" >0</text><text transform="translate(28,587.0999999999999) rotate(-90)" font-size="15" fill="#5a5a5a" text-anchor="middle" font-style="italic">ϕ</text><text x="56.5" y="681" font-size="14.8" fill="#5a5a5a" text-anchor="end" >2 <tspan font-style="italic">π</tspan></text><text x="56.5" y="748.2" font-size="14.8" fill="#5a5a5a" text-anchor="end" ><tspan font-style="italic">π</tspan></text><text x="57.3" y="814.6" font-size="14.8" fill="#5a5a5a" text-anchor="end" >0</text><text transform="translate(28,744.0) rotate(-90)" font-size="15" fill="#5a5a5a" text-anchor="middle" font-style="italic">ϕ</text><text x="84.8" y="540.2" font-size="18.3" fill="#111" text-anchor="middle" >S</text><text x="304.4" y="646.7" font-size="18.3" fill="#111" text-anchor="middle" >S</text><text x="305.1" y="696.7" font-size="18.3" fill="#111" text-anchor="middle" >S</text><text x="85.4" y="803.4" font-size="18.3" fill="#111" text-anchor="middle" >S</text><text x="73.5" y="647.5" font-size="17.5" fill="#fff" text-anchor="middle" font-style="italic" >γ<tspan font-size="12.6" dy="1.8" font-style="normal">1</tspan></text><text x="74.8" y="697.2" font-size="17.5" fill="#fff" text-anchor="middle" font-style="italic" >γ<tspan font-size="12.6" dy="1.8" font-style="normal">1</tspan></text><text x="316.5" y="803.2" font-size="17.5" fill="#fff" text-anchor="middle" font-style="italic" >γ<tspan font-size="12.6" dy="1.8" font-style="normal">2</tspan></text><text x="314.3" y="541" font-size="17.5" fill="#fff" text-anchor="middle" font-style="italic" >−γ<tspan font-size="12.6" dy="1.8" font-style="normal">2</tspan></text><text x="61.4" y="826.2" font-size="14.8" fill="#5a5a5a" text-anchor="middle" >−1.0</text><text x="128.3" y="826.2" font-size="14.8" fill="#5a5a5a" text-anchor="middle" >−0.5</text><text x="195.3" y="826.2" font-size="14.8" fill="#5a5a5a" text-anchor="middle" >0.0</text><text x="262.2" y="826.2" font-size="14.8" fill="#5a5a5a" text-anchor="middle" >0.5</text><text x="329.4" y="826.2" font-size="14.8" fill="#5a5a5a" text-anchor="middle" >1.</text><text x="196" y="847.5" font-size="14.8" fill="#5a5a5a" text-anchor="middle" >x/<tspan font-style="italic">L</tspan><tspan font-style="italic" font-size="10.5" dy="2.5">S</tspan></text><text x="421.7" y="540" font-size="18.3" fill="#111" text-anchor="middle" >S</text><text x="477.9" y="540.5" font-size="18.3" fill="#111" text-anchor="middle" >N</text><text x="641.6" y="647" font-size="18.3" fill="#111" text-anchor="middle" >S</text><text x="585.7" y="697.5" font-size="18.3" fill="#111" text-anchor="middle" >N</text><text x="642.2" y="697.5" font-size="18.3" fill="#111" text-anchor="middle" >S</text><text x="422.5" y="803.8" font-size="18.3" fill="#111" text-anchor="middle" >S</text><text x="475.8" y="647.5" font-size="17.5" fill="#fff" text-anchor="middle" font-style="italic" >γ<tspan font-size="12.6" dy="1.8" font-style="normal">1</tspan></text><text x="475.8" y="697.3" font-size="17.5" fill="#fff" text-anchor="middle" font-style="italic" >γ<tspan font-size="12.6" dy="1.8" font-style="normal">1</tspan></text><text x="589.2" y="803.5" font-size="17.5" fill="#fff" text-anchor="middle" font-style="italic" >γ<tspan font-size="12.6" dy="1.8" font-style="normal">2</tspan></text><text x="587" y="540.5" font-size="17.5" fill="#fff" text-anchor="middle" font-style="italic" >−γ<tspan font-size="12.6" dy="1.8" font-style="normal">2</tspan></text><text x="448.6" y="826.2" font-size="14.8" fill="#5a5a5a" text-anchor="middle" >−0.5</text><text x="531.6" y="826.2" font-size="14.8" fill="#5a5a5a" text-anchor="middle" >0.0</text><text x="614.9" y="826.2" font-size="14.8" fill="#5a5a5a" text-anchor="middle" >0.5</text><text x="532" y="847.5" font-size="14.8" fill="#5a5a5a" text-anchor="middle" >x/<tspan font-style="italic">L</tspan><tspan font-style="italic" font-size="10.5" dy="2.5">N</tspan></text></svg></body></html>
